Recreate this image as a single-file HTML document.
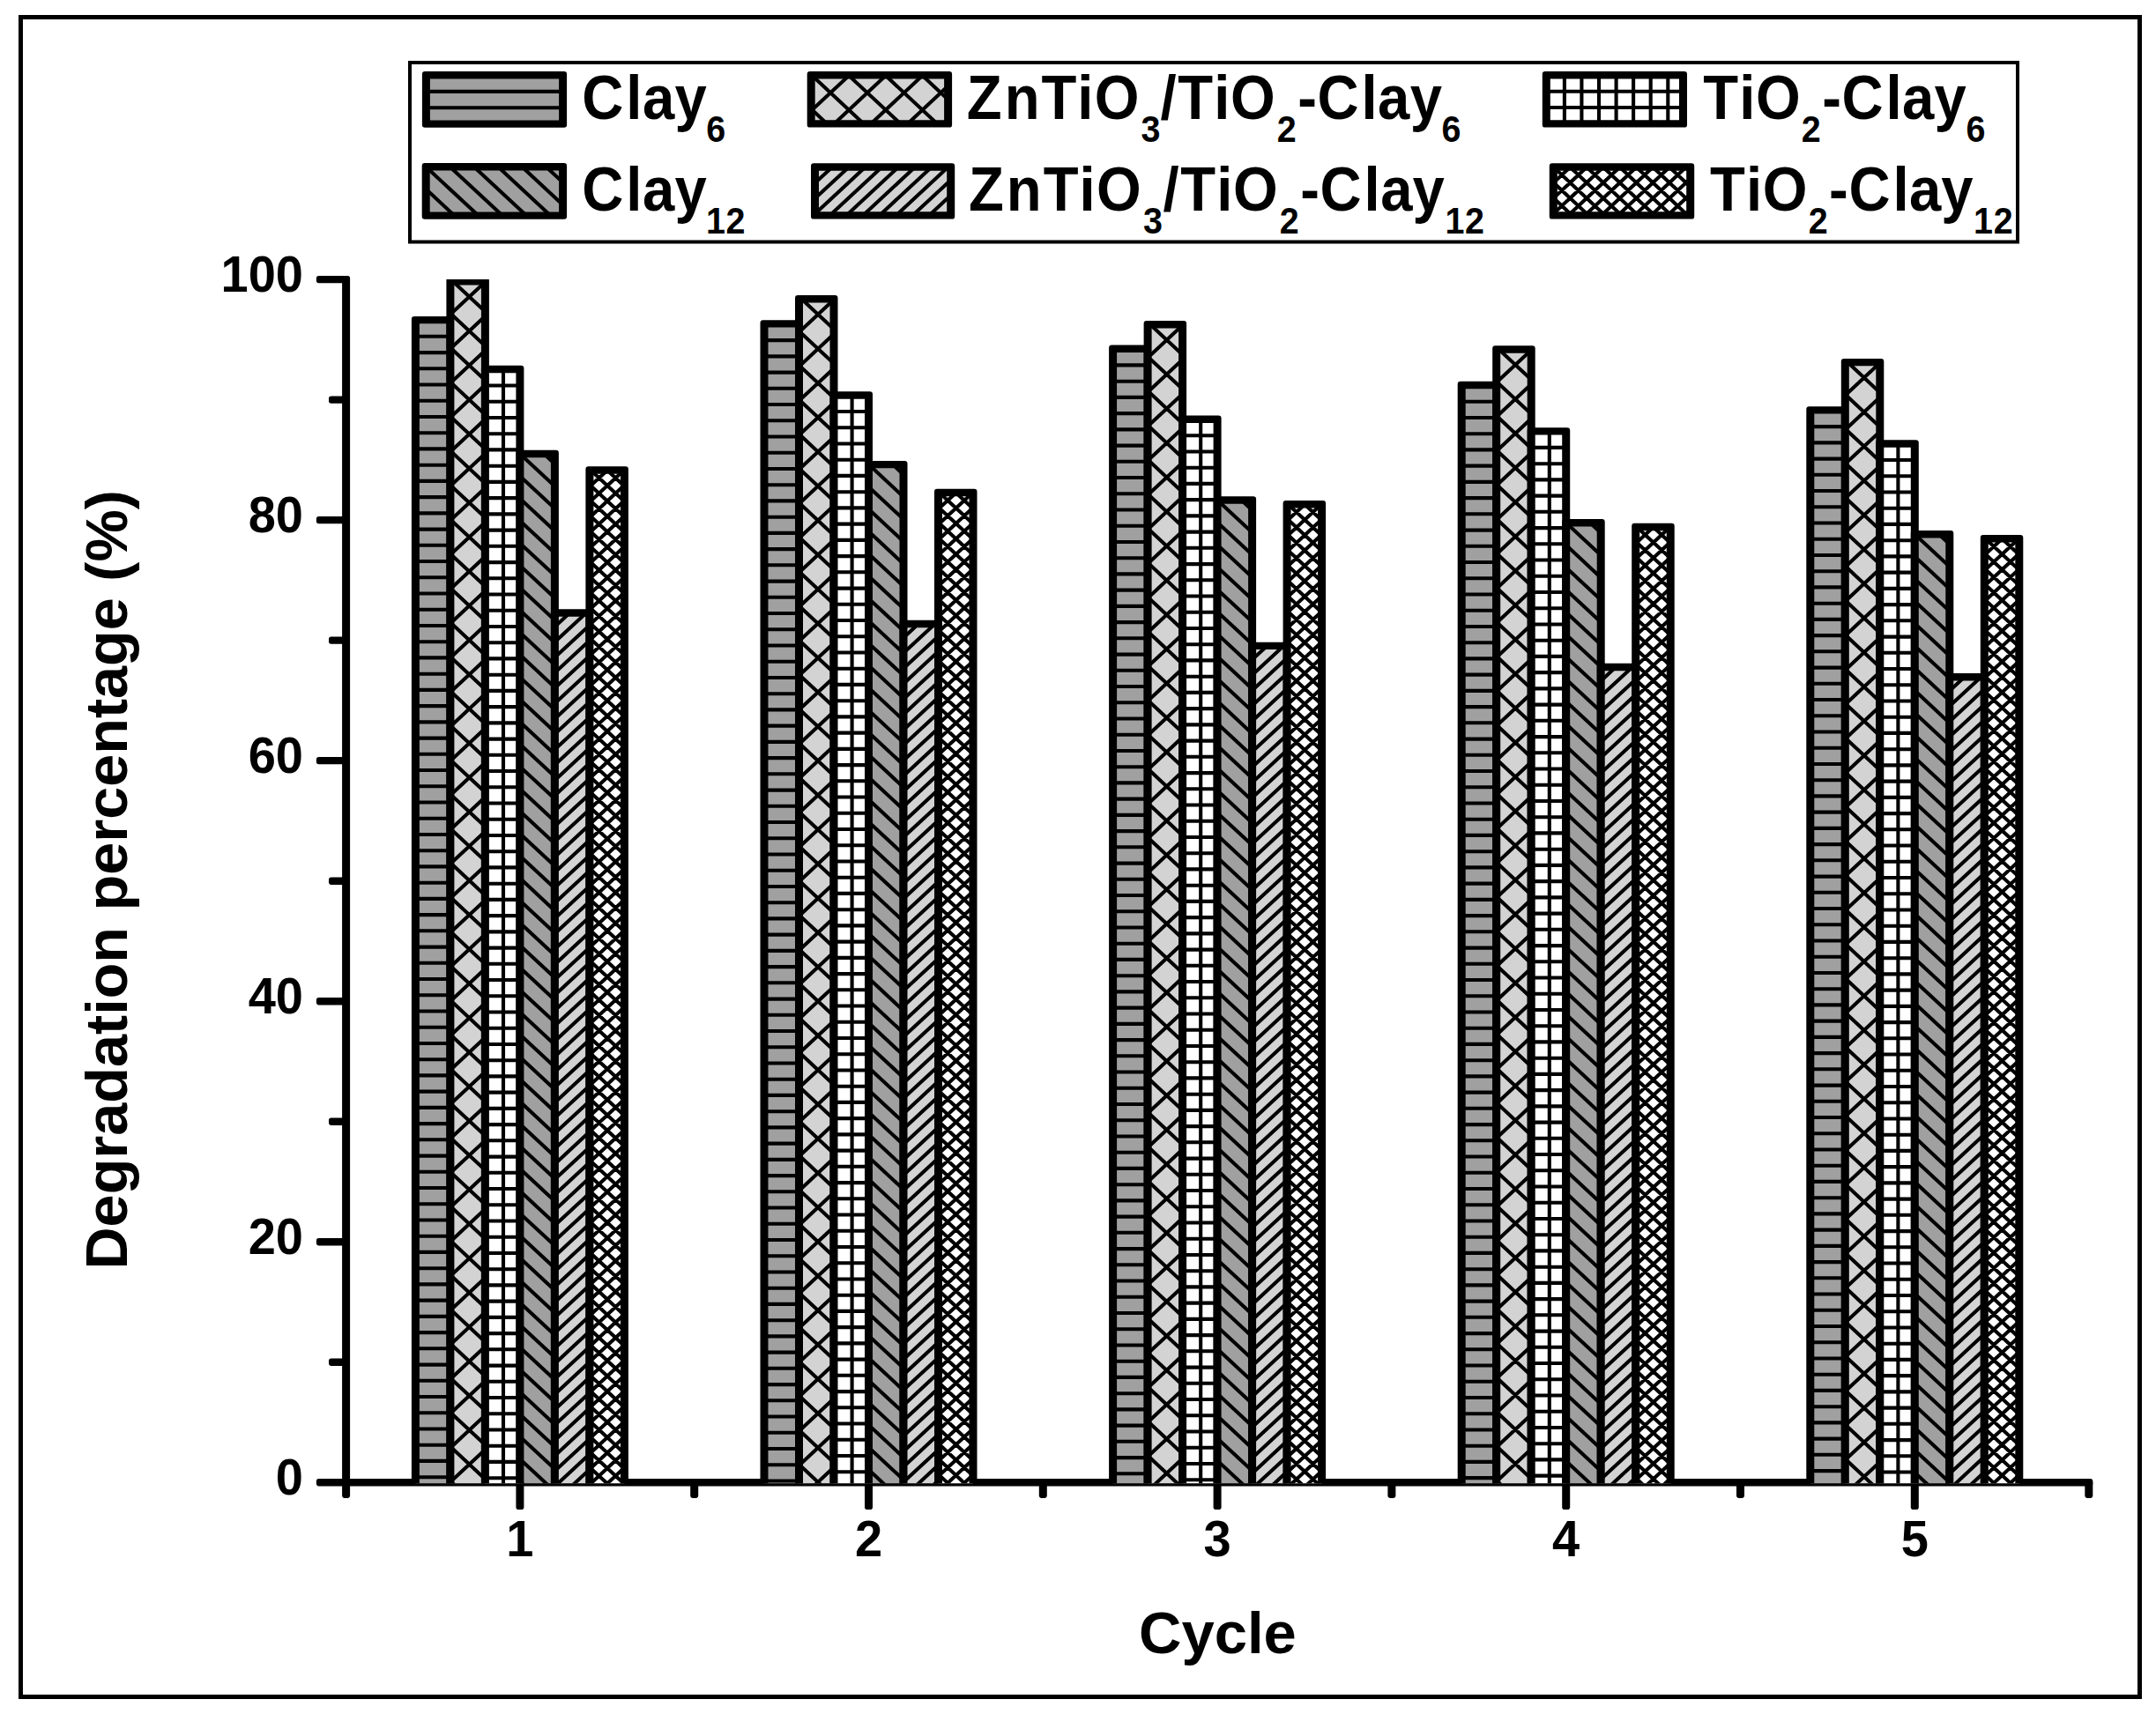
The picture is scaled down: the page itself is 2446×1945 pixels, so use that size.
<!DOCTYPE html>
<html lang="en"><head><meta charset="utf-8"><title>Degradation percentage per cycle</title>
<style>html,body{margin:0;padding:0;background:#fff}svg{display:block}text{font-family:"Liberation Sans",Arial,Helvetica,sans-serif;font-weight:bold;fill:#000}</style></head><body>
<svg width="2446" height="1945" viewBox="0 0 2446 1945">
<rect width="2446" height="1945" fill="#fff"/>
<rect x="23.5" y="19.5" width="2404" height="1906" fill="none" stroke="#000" stroke-width="5"/>
<g fill="#000"><rect x="388.1" y="312.9" width="9" height="1387" rx="2.8"/><rect x="358.9" y="1678" width="2015.4" height="8.4" rx="2.8"/><rect x="373" y="1541.5" width="19.5" height="8.4" rx="2.8"/><rect x="358.9" y="1405" width="33.6" height="8.4" rx="2.8"/><rect x="373" y="1268.5" width="19.5" height="8.4" rx="2.8"/><rect x="358.9" y="1132" width="33.6" height="8.4" rx="2.8"/><rect x="373" y="995.5" width="19.5" height="8.4" rx="2.8"/><rect x="358.9" y="858.9" width="33.6" height="8.4" rx="2.8"/><rect x="373" y="722.4" width="19.5" height="8.4" rx="2.8"/><rect x="358.9" y="585.9" width="33.6" height="8.4" rx="2.8"/><rect x="373" y="449.4" width="19.5" height="8.4" rx="2.8"/><rect x="358.9" y="312.9" width="33.6" height="8.4" rx="2.8"/><rect x="585.4" y="1680.2" width="9" height="32.8" rx="2.8"/><rect x="783.2" y="1680.2" width="9" height="19.7" rx="2.8"/><rect x="981" y="1680.2" width="9" height="32.8" rx="2.8"/><rect x="1178.8" y="1680.2" width="9" height="19.7" rx="2.8"/><rect x="1376.6" y="1680.2" width="9" height="32.8" rx="2.8"/><rect x="1574.4" y="1680.2" width="9" height="19.7" rx="2.8"/><rect x="1772.2" y="1680.2" width="9" height="32.8" rx="2.8"/><rect x="1970" y="1680.2" width="9" height="19.7" rx="2.8"/><rect x="2167.8" y="1680.2" width="9" height="32.8" rx="2.8"/><rect x="2365.3" y="1680.2" width="9" height="19.7" rx="2.8"/></g>
<defs><clipPath id="plot"><rect x="380" y="317.1" width="2010" height="1366.2"/></clipPath></defs>
<g clip-path="url(#plot)">
<rect x="471.4" y="363.1" width="39.5" height="1331.1" fill="#a0a0a0"/>
<path d="M471.4 381.8L510.9 381.8M471.4 400.1L510.9 400.1M471.4 418.3L510.9 418.3M471.4 436.5L510.9 436.5M471.4 454.8L510.9 454.8M471.4 473L510.9 473M471.4 491.2L510.9 491.2M471.4 509.4L510.9 509.4M471.4 527.7L510.9 527.7M471.4 545.9L510.9 545.9M471.4 564.1L510.9 564.1M471.4 582.4L510.9 582.4M471.4 600.6L510.9 600.6M471.4 618.8L510.9 618.8M471.4 637L510.9 637M471.4 655.3L510.9 655.3M471.4 673.5L510.9 673.5M471.4 691.7L510.9 691.7M471.4 710L510.9 710M471.4 728.2L510.9 728.2M471.4 746.4L510.9 746.4M471.4 764.7L510.9 764.7M471.4 782.9L510.9 782.9M471.4 801.1L510.9 801.1M471.4 819.4L510.9 819.4M471.4 837.6L510.9 837.6M471.4 855.8L510.9 855.8M471.4 874L510.9 874M471.4 892.3L510.9 892.3M471.4 910.5L510.9 910.5M471.4 928.7L510.9 928.7M471.4 947L510.9 947M471.4 965.2L510.9 965.2M471.4 983.4L510.9 983.4M471.4 1001.7L510.9 1001.7M471.4 1019.9L510.9 1019.9M471.4 1038.1L510.9 1038.1M471.4 1056.3L510.9 1056.3M471.4 1074.6L510.9 1074.6M471.4 1092.8L510.9 1092.8M471.4 1111L510.9 1111M471.4 1129.3L510.9 1129.3M471.4 1147.5L510.9 1147.5M471.4 1165.7L510.9 1165.7M471.4 1184L510.9 1184M471.4 1202.2L510.9 1202.2M471.4 1220.4L510.9 1220.4M471.4 1238.6L510.9 1238.6M471.4 1256.9L510.9 1256.9M471.4 1275.1L510.9 1275.1M471.4 1293.3L510.9 1293.3M471.4 1311.6L510.9 1311.6M471.4 1329.8L510.9 1329.8M471.4 1348L510.9 1348M471.4 1366.2L510.9 1366.2M471.4 1384.5L510.9 1384.5M471.4 1402.7L510.9 1402.7M471.4 1420.9L510.9 1420.9M471.4 1439.2L510.9 1439.2M471.4 1457.4L510.9 1457.4M471.4 1475.6L510.9 1475.6M471.4 1493.9L510.9 1493.9M471.4 1512.1L510.9 1512.1M471.4 1530.3L510.9 1530.3M471.4 1548.6L510.9 1548.6M471.4 1566.8L510.9 1566.8M471.4 1585L510.9 1585M471.4 1603.2L510.9 1603.2M471.4 1621.5L510.9 1621.5M471.4 1639.7L510.9 1639.7M471.4 1657.9L510.9 1657.9M471.4 1676.2L510.9 1676.2" fill="none" stroke="#000" stroke-width="4.1"/>
<path d="M470.1 358.9H512.2A3.2 3.2 0 0 1 515.4 362.1V1695.2A3.2 3.2 0 0 1 512.2 1698.4H470.1A3.2 3.2 0 0 1 466.9 1695.2V362.1A3.2 3.2 0 0 1 470.1 358.9ZM475.9 367.3H506.4V1690H475.9Z" fill="#000" fill-rule="evenodd"/>
<rect x="510.9" y="319.2" width="39.5" height="1375" fill="#d3d3d3"/>
<path d="M510.9 1680.6L525.4 1694.2M510.9 1641.6L550.4 1678.6M510.9 1602.7L550.4 1639.6M510.9 1563.7L550.4 1600.6M510.9 1524.7L550.4 1561.6M510.9 1485.8L550.4 1522.7M510.9 1446.8L550.4 1483.7M510.9 1407.8L550.4 1444.7M510.9 1368.8L550.4 1405.8M510.9 1329.9L550.4 1366.8M510.9 1290.9L550.4 1327.8M510.9 1251.9L550.4 1288.8M510.9 1213L550.4 1249.9M510.9 1174L550.4 1210.9M510.9 1135L550.4 1171.9M510.9 1096L550.4 1133M510.9 1057.1L550.4 1094M510.9 1018.1L550.4 1055M510.9 979.1L550.4 1016M510.9 940.2L550.4 977.1M510.9 901.2L550.4 938.1M510.9 862.2L550.4 899.1M510.9 823.2L550.4 860.2M510.9 784.3L550.4 821.2M510.9 745.3L550.4 782.2M510.9 706.3L550.4 743.2M510.9 667.3L550.4 704.3M510.9 628.4L550.4 665.3M510.9 589.4L550.4 626.3M510.9 550.4L550.4 587.3M510.9 511.5L550.4 548.4M510.9 472.5L550.4 509.4M510.9 433.5L550.4 470.4M510.9 394.5L550.4 431.5M510.9 355.6L550.4 392.5M513.7 319.2L550.4 353.5M550.4 319.9L510.9 356.8M550.4 358.8L510.9 395.8M550.4 397.8L510.9 434.7M550.4 436.8L510.9 473.7M550.4 475.8L510.9 512.7M550.4 514.7L510.9 551.6M550.4 553.7L510.9 590.6M550.4 592.7L510.9 629.6M550.4 631.6L510.9 668.6M550.4 670.6L510.9 707.5M550.4 709.6L510.9 746.5M550.4 748.6L510.9 785.5M550.4 787.5L510.9 824.5M550.4 826.5L510.9 863.4M550.4 865.5L510.9 902.4M550.4 904.5L510.9 941.4M550.4 943.4L510.9 980.3M550.4 982.4L510.9 1019.3M550.4 1021.4L510.9 1058.3M550.4 1060.3L510.9 1097.3M550.4 1099.3L510.9 1136.2M550.4 1138.3L510.9 1175.2M550.4 1177.3L510.9 1214.2M550.4 1216.2L510.9 1253.1M550.4 1255.2L510.9 1292.1M550.4 1294.2L510.9 1331.1M550.4 1333.1L510.9 1370.1M550.4 1372.1L510.9 1409M550.4 1411.1L510.9 1448M550.4 1450.1L510.9 1487M550.4 1489L510.9 1525.9M550.4 1528L510.9 1564.9M550.4 1567L510.9 1603.9M550.4 1605.9L510.9 1642.9M550.4 1644.9L510.9 1681.8M550.4 1683.9L539.4 1694.2" fill="none" stroke="#000" stroke-width="4.1"/>
<path d="M509.6 315H551.7A3.2 3.2 0 0 1 554.9 318.2V1695.2A3.2 3.2 0 0 1 551.7 1698.4H509.6A3.2 3.2 0 0 1 506.4 1695.2V318.2A3.2 3.2 0 0 1 509.6 315ZM515.4 323.4H545.9V1690H515.4Z" fill="#000" fill-rule="evenodd"/>
<rect x="550.4" y="419" width="39.5" height="1275.2" fill="#ffffff"/>
<path d="M550.4 437.5L589.9 437.5M550.4 455.8L589.9 455.8M550.4 474L589.9 474M550.4 492.2L589.9 492.2M550.4 510.4L589.9 510.4M550.4 528.7L589.9 528.7M550.4 546.9L589.9 546.9M550.4 565.1L589.9 565.1M550.4 583.4L589.9 583.4M550.4 601.6L589.9 601.6M550.4 619.8L589.9 619.8M550.4 638.1L589.9 638.1M550.4 656.3L589.9 656.3M550.4 674.5L589.9 674.5M550.4 692.8L589.9 692.8M550.4 711L589.9 711M550.4 729.2L589.9 729.2M550.4 747.4L589.9 747.4M550.4 765.7L589.9 765.7M550.4 783.9L589.9 783.9M550.4 802.1L589.9 802.1M550.4 820.4L589.9 820.4M550.4 838.6L589.9 838.6M550.4 856.8L589.9 856.8M550.4 875L589.9 875M550.4 893.3L589.9 893.3M550.4 911.5L589.9 911.5M550.4 929.7L589.9 929.7M550.4 948L589.9 948M550.4 966.2L589.9 966.2M550.4 984.4L589.9 984.4M550.4 1002.7L589.9 1002.7M550.4 1020.9L589.9 1020.9M550.4 1039.1L589.9 1039.1M550.4 1057.4L589.9 1057.4M550.4 1075.6L589.9 1075.6M550.4 1093.8L589.9 1093.8M550.4 1112L589.9 1112M550.4 1130.3L589.9 1130.3M550.4 1148.5L589.9 1148.5M550.4 1166.7L589.9 1166.7M550.4 1185L589.9 1185M550.4 1203.2L589.9 1203.2M550.4 1221.4L589.9 1221.4M550.4 1239.6L589.9 1239.6M550.4 1257.9L589.9 1257.9M550.4 1276.1L589.9 1276.1M550.4 1294.3L589.9 1294.3M550.4 1312.6L589.9 1312.6M550.4 1330.8L589.9 1330.8M550.4 1349L589.9 1349M550.4 1367.3L589.9 1367.3M550.4 1385.5L589.9 1385.5M550.4 1403.7L589.9 1403.7M550.4 1422L589.9 1422M550.4 1440.2L589.9 1440.2M550.4 1458.4L589.9 1458.4M550.4 1476.6L589.9 1476.6M550.4 1494.9L589.9 1494.9M550.4 1513.1L589.9 1513.1M550.4 1531.3L589.9 1531.3M550.4 1549.6L589.9 1549.6M550.4 1567.8L589.9 1567.8M550.4 1586L589.9 1586M550.4 1604.2L589.9 1604.2M550.4 1622.5L589.9 1622.5M550.4 1640.7L589.9 1640.7M550.4 1658.9L589.9 1658.9M550.4 1677.2L589.9 1677.2M571 419L571 1694.2" fill="none" stroke="#000" stroke-width="4.1"/>
<path d="M549.1 414.8H591.2A3.2 3.2 0 0 1 594.4 418V1695.2A3.2 3.2 0 0 1 591.2 1698.4H549.1A3.2 3.2 0 0 1 545.9 1695.2V418A3.2 3.2 0 0 1 549.1 414.8ZM554.9 423.2H585.4V1690H554.9Z" fill="#000" fill-rule="evenodd"/>
<rect x="589.9" y="515" width="39.5" height="1179.2" fill="#a0a0a0"/>
<path d="M589.9 1681L604 1694.2M589.9 1655.7L629.4 1692.4M589.9 1630.3L629.4 1667.1M589.9 1605L629.4 1641.7M589.9 1579.7L629.4 1616.4M589.9 1554.3L629.4 1591M589.9 1529L629.4 1565.7M589.9 1503.6L629.4 1540.3M589.9 1478.3L629.4 1515M589.9 1452.9L629.4 1489.7M589.9 1427.6L629.4 1464.3M589.9 1402.2L629.4 1439M589.9 1376.9L629.4 1413.6M589.9 1351.5L629.4 1388.3M589.9 1326.2L629.4 1362.9M589.9 1300.8L629.4 1337.6M589.9 1275.5L629.4 1312.2M589.9 1250.1L629.4 1286.9M589.9 1224.8L629.4 1261.5M589.9 1199.4L629.4 1236.2M589.9 1174.1L629.4 1210.8M589.9 1148.7L629.4 1185.5M589.9 1123.4L629.4 1160.1M589.9 1098L629.4 1134.8M589.9 1072.7L629.4 1109.4M589.9 1047.3L629.4 1084.1M589.9 1022L629.4 1058.7M589.9 996.6L629.4 1033.4M589.9 971.3L629.4 1008M589.9 945.9L629.4 982.7M589.9 920.6L629.4 957.3M589.9 895.2L629.4 932M589.9 869.9L629.4 906.6M589.9 844.5L629.4 881.3M589.9 819.2L629.4 855.9M589.9 793.8L629.4 830.6M589.9 768.5L629.4 805.2M589.9 743.1L629.4 779.9M589.9 717.8L629.4 754.5M589.9 692.4L629.4 729.2M589.9 667.1L629.4 703.8M589.9 641.7L629.4 678.5M589.9 616.4L629.4 653.1M589.9 591L629.4 627.8M589.9 565.7L629.4 602.4M589.9 540.3L629.4 577.1M589.9 515L629.4 551.7M617.2 515L629.4 526.4" fill="none" stroke="#000" stroke-width="4.1"/>
<path d="M588.6 510.8H630.7A3.2 3.2 0 0 1 633.9 514V1695.2A3.2 3.2 0 0 1 630.7 1698.4H588.6A3.2 3.2 0 0 1 585.4 1695.2V514A3.2 3.2 0 0 1 588.6 510.8ZM594.4 519.2H624.9V1690H594.4Z" fill="#000" fill-rule="evenodd"/>
<rect x="629.4" y="695.5" width="39.5" height="998.7" fill="#d3d3d3"/>
<path d="M646.3 695.5L629.4 711.2M665.1 695.5L629.4 728.6M668.9 709.4L629.4 746M668.9 726.8L629.4 763.4M668.9 744.2L629.4 780.8M668.9 761.6L629.4 798.3M668.9 779L629.4 815.7M668.9 796.5L629.4 833.1M668.9 813.9L629.4 850.5M668.9 831.3L629.4 867.9M668.9 848.7L629.4 885.4M668.9 866.1L629.4 902.8M668.9 883.6L629.4 920.2M668.9 901L629.4 937.6M668.9 918.4L629.4 955.1M668.9 935.8L629.4 972.5M668.9 953.3L629.4 989.9M668.9 970.7L629.4 1007.3M668.9 988.1L629.4 1024.7M668.9 1005.5L629.4 1042.2M668.9 1022.9L629.4 1059.6M668.9 1040.4L629.4 1077M668.9 1057.8L629.4 1094.4M668.9 1075.2L629.4 1111.8M668.9 1092.6L629.4 1129.3M668.9 1110L629.4 1146.7M668.9 1127.5L629.4 1164.1M668.9 1144.9L629.4 1181.5M668.9 1162.3L629.4 1199M668.9 1179.7L629.4 1216.4M668.9 1197.2L629.4 1233.8M668.9 1214.6L629.4 1251.2M668.9 1232L629.4 1268.6M668.9 1249.4L629.4 1286.1M668.9 1266.8L629.4 1303.5M668.9 1284.3L629.4 1320.9M668.9 1301.7L629.4 1338.3M668.9 1319.1L629.4 1355.7M668.9 1336.5L629.4 1373.2M668.9 1353.9L629.4 1390.6M668.9 1371.4L629.4 1408M668.9 1388.8L629.4 1425.4M668.9 1406.2L629.4 1442.8M668.9 1423.6L629.4 1460.3M668.9 1441L629.4 1477.7M668.9 1458.5L629.4 1495.1M668.9 1475.9L629.4 1512.5M668.9 1493.3L629.4 1530M668.9 1510.7L629.4 1547.4M668.9 1528.2L629.4 1564.8M668.9 1545.6L629.4 1582.2M668.9 1563L629.4 1599.6M668.9 1580.4L629.4 1617.1M668.9 1597.8L629.4 1634.5M668.9 1615.3L629.4 1651.9M668.9 1632.7L629.4 1669.3M668.9 1650.1L629.4 1686.7M668.9 1667.5L640.1 1694.2M668.9 1684.9L658.9 1694.2" fill="none" stroke="#000" stroke-width="4.1"/>
<path d="M628.1 691.3H670.2A3.2 3.2 0 0 1 673.4 694.5V1695.2A3.2 3.2 0 0 1 670.2 1698.4H628.1A3.2 3.2 0 0 1 624.9 1695.2V694.5A3.2 3.2 0 0 1 628.1 691.3ZM633.9 699.7H664.4V1690H633.9Z" fill="#000" fill-rule="evenodd"/>
<rect x="668.9" y="533.5" width="39.5" height="1160.7" fill="#ffffff"/>
<path d="M668.9 1682.3L681.8 1694.2M668.9 1664.9L700.5 1694.2M668.9 1647.4L708.4 1684.1M668.9 1630L708.4 1666.7M668.9 1612.6L708.4 1649.2M668.9 1595.2L708.4 1631.8M668.9 1577.7L708.4 1614.4M668.9 1560.3L708.4 1597M668.9 1542.9L708.4 1579.5M668.9 1525.5L708.4 1562.1M668.9 1508.1L708.4 1544.7M668.9 1490.6L708.4 1527.3M668.9 1473.2L708.4 1509.9M668.9 1455.8L708.4 1492.4M668.9 1438.4L708.4 1475M668.9 1421L708.4 1457.6M668.9 1403.5L708.4 1440.2M668.9 1386.1L708.4 1422.8M668.9 1368.7L708.4 1405.3M668.9 1351.3L708.4 1387.9M668.9 1333.9L708.4 1370.5M668.9 1316.4L708.4 1353.1M668.9 1299L708.4 1335.7M668.9 1281.6L708.4 1318.2M668.9 1264.2L708.4 1300.8M668.9 1246.7L708.4 1283.4M668.9 1229.3L708.4 1266M668.9 1211.9L708.4 1248.5M668.9 1194.5L708.4 1231.1M668.9 1177.1L708.4 1213.7M668.9 1159.6L708.4 1196.3M668.9 1142.2L708.4 1178.9M668.9 1124.8L708.4 1161.4M668.9 1107.4L708.4 1144M668.9 1090L708.4 1126.6M668.9 1072.5L708.4 1109.2M668.9 1055.1L708.4 1091.8M668.9 1037.7L708.4 1074.3M668.9 1020.3L708.4 1056.9M668.9 1002.9L708.4 1039.5M668.9 985.4L708.4 1022.1M668.9 968L708.4 1004.7M668.9 950.6L708.4 987.2M668.9 933.2L708.4 969.8M668.9 915.7L708.4 952.4M668.9 898.3L708.4 935M668.9 880.9L708.4 917.5M668.9 863.5L708.4 900.1M668.9 846.1L708.4 882.7M668.9 828.6L708.4 865.3M668.9 811.2L708.4 847.9M668.9 793.8L708.4 830.4M668.9 776.4L708.4 813M668.9 759L708.4 795.6M668.9 741.5L708.4 778.2M668.9 724.1L708.4 760.8M668.9 706.7L708.4 743.3M668.9 689.3L708.4 725.9M668.9 671.8L708.4 708.5M668.9 654.4L708.4 691.1M668.9 637L708.4 673.6M668.9 619.6L708.4 656.2M668.9 602.2L708.4 638.8M668.9 584.7L708.4 621.4M668.9 567.3L708.4 604M668.9 549.9L708.4 586.5M670 533.5L708.4 569.1M688.8 533.5L708.4 551.7M707.6 533.5L708.4 534.3M670.4 533.5L668.9 534.9M689.2 533.5L668.9 552.3M708 533.5L668.9 569.7M708.4 550.5L668.9 587.2M708.4 567.9L668.9 604.6M708.4 585.4L668.9 622M708.4 602.8L668.9 639.4M708.4 620.2L668.9 656.8M708.4 637.6L668.9 674.3M708.4 655L668.9 691.7M708.4 672.5L668.9 709.1M708.4 689.9L668.9 726.5M708.4 707.3L668.9 743.9M708.4 724.7L668.9 761.4M708.4 742.1L668.9 778.8M708.4 759.6L668.9 796.2M708.4 777L668.9 813.6M708.4 794.4L668.9 831.1M708.4 811.8L668.9 848.5M708.4 829.3L668.9 865.9M708.4 846.7L668.9 883.3M708.4 864.1L668.9 900.7M708.4 881.5L668.9 918.2M708.4 898.9L668.9 935.6M708.4 916.4L668.9 953M708.4 933.8L668.9 970.4M708.4 951.2L668.9 987.8M708.4 968.6L668.9 1005.3M708.4 986L668.9 1022.7M708.4 1003.5L668.9 1040.1M708.4 1020.9L668.9 1057.5M708.4 1038.3L668.9 1074.9M708.4 1055.7L668.9 1092.4M708.4 1073.1L668.9 1109.8M708.4 1090.6L668.9 1127.2M708.4 1108L668.9 1144.6M708.4 1125.4L668.9 1162.1M708.4 1142.8L668.9 1179.5M708.4 1160.3L668.9 1196.9M708.4 1177.7L668.9 1214.3M708.4 1195.1L668.9 1231.7M708.4 1212.5L668.9 1249.2M708.4 1229.9L668.9 1266.6M708.4 1247.4L668.9 1284M708.4 1264.8L668.9 1301.4M708.4 1282.2L668.9 1318.8M708.4 1299.6L668.9 1336.3M708.4 1317L668.9 1353.7M708.4 1334.5L668.9 1371.1M708.4 1351.9L668.9 1388.5M708.4 1369.3L668.9 1405.9M708.4 1386.7L668.9 1423.4M708.4 1404.1L668.9 1440.8M708.4 1421.6L668.9 1458.2M708.4 1439L668.9 1475.6M708.4 1456.4L668.9 1493.1M708.4 1473.8L668.9 1510.5M708.4 1491.3L668.9 1527.9M708.4 1508.7L668.9 1545.3M708.4 1526.1L668.9 1562.7M708.4 1543.5L668.9 1580.2M708.4 1560.9L668.9 1597.6M708.4 1578.4L668.9 1615M708.4 1595.8L668.9 1632.4M708.4 1613.2L668.9 1649.8M708.4 1630.6L668.9 1667.3M708.4 1648L668.9 1684.7M708.4 1665.5L677.4 1694.2M708.4 1682.9L696.2 1694.2" fill="none" stroke="#000" stroke-width="4.1"/>
<path d="M667.6 529.3H709.7A3.2 3.2 0 0 1 712.9 532.5V1695.2A3.2 3.2 0 0 1 709.7 1698.4H667.6A3.2 3.2 0 0 1 664.4 1695.2V532.5A3.2 3.2 0 0 1 667.6 529.3ZM673.4 537.7H703.9V1690H673.4Z" fill="#000" fill-rule="evenodd"/>
<rect x="867" y="367.4" width="39.5" height="1326.8" fill="#a0a0a0"/>
<path d="M867 386.1L906.5 386.1M867 404.4L906.5 404.4M867 422.6L906.5 422.6M867 440.8L906.5 440.8M867 459L906.5 459M867 477.3L906.5 477.3M867 495.5L906.5 495.5M867 513.7L906.5 513.7M867 532L906.5 532M867 550.2L906.5 550.2M867 568.4L906.5 568.4M867 586.7L906.5 586.7M867 604.9L906.5 604.9M867 623.1L906.5 623.1M867 641.3L906.5 641.3M867 659.6L906.5 659.6M867 677.8L906.5 677.8M867 696L906.5 696M867 714.3L906.5 714.3M867 732.5L906.5 732.5M867 750.7L906.5 750.7M867 769L906.5 769M867 787.2L906.5 787.2M867 805.4L906.5 805.4M867 823.6L906.5 823.6M867 841.9L906.5 841.9M867 860.1L906.5 860.1M867 878.3L906.5 878.3M867 896.6L906.5 896.6M867 914.8L906.5 914.8M867 933L906.5 933M867 951.3L906.5 951.3M867 969.5L906.5 969.5M867 987.7L906.5 987.7M867 1006L906.5 1006M867 1024.2L906.5 1024.2M867 1042.4L906.5 1042.4M867 1060.6L906.5 1060.6M867 1078.9L906.5 1078.9M867 1097.1L906.5 1097.1M867 1115.3L906.5 1115.3M867 1133.6L906.5 1133.6M867 1151.8L906.5 1151.8M867 1170L906.5 1170M867 1188.2L906.5 1188.2M867 1206.5L906.5 1206.5M867 1224.7L906.5 1224.7M867 1242.9L906.5 1242.9M867 1261.2L906.5 1261.2M867 1279.4L906.5 1279.4M867 1297.6L906.5 1297.6M867 1315.9L906.5 1315.9M867 1334.1L906.5 1334.1M867 1352.3L906.5 1352.3M867 1370.5L906.5 1370.5M867 1388.8L906.5 1388.8M867 1407L906.5 1407M867 1425.2L906.5 1425.2M867 1443.5L906.5 1443.5M867 1461.7L906.5 1461.7M867 1479.9L906.5 1479.9M867 1498.2L906.5 1498.2M867 1516.4L906.5 1516.4M867 1534.6L906.5 1534.6M867 1552.8L906.5 1552.8M867 1571.1L906.5 1571.1M867 1589.3L906.5 1589.3M867 1607.5L906.5 1607.5M867 1625.8L906.5 1625.8M867 1644L906.5 1644M867 1662.2L906.5 1662.2M867 1680.5L906.5 1680.5" fill="none" stroke="#000" stroke-width="4.1"/>
<path d="M865.7 363.2H907.8A3.2 3.2 0 0 1 911 366.4V1695.2A3.2 3.2 0 0 1 907.8 1698.4H865.7A3.2 3.2 0 0 1 862.5 1695.2V366.4A3.2 3.2 0 0 1 865.7 363.2ZM871.5 371.6H902V1690H871.5Z" fill="#000" fill-rule="evenodd"/>
<rect x="906.5" y="339.3" width="39.5" height="1354.9" fill="#d3d3d3"/>
<path d="M906.5 1661.7L941.2 1694.2M906.5 1622.8L946 1659.7M906.5 1583.8L946 1620.7M906.5 1544.8L946 1581.7M906.5 1505.9L946 1542.8M906.5 1466.9L946 1503.8M906.5 1427.9L946 1464.8M906.5 1388.9L946 1425.9M906.5 1350L946 1386.9M906.5 1311L946 1347.9M906.5 1272L946 1308.9M906.5 1233.1L946 1270M906.5 1194.1L946 1231M906.5 1155.1L946 1192M906.5 1116.1L946 1153.1M906.5 1077.2L946 1114.1M906.5 1038.2L946 1075.1M906.5 999.2L946 1036.1M906.5 960.3L946 997.2M906.5 921.3L946 958.2M906.5 882.3L946 919.2M906.5 843.3L946 880.3M906.5 804.4L946 841.3M906.5 765.4L946 802.3M906.5 726.4L946 763.3M906.5 687.4L946 724.4M906.5 648.5L946 685.4M906.5 609.5L946 646.4M906.5 570.5L946 607.4M906.5 531.6L946 568.5M906.5 492.6L946 529.5M906.5 453.6L946 490.5M906.5 414.6L946 451.6M906.5 375.7L946 412.6M909.3 339.3L946 373.6M946 340L906.5 376.9M946 378.9L906.5 415.9M946 417.9L906.5 454.8M946 456.9L906.5 493.8M946 495.9L906.5 532.8M946 534.8L906.5 571.7M946 573.8L906.5 610.7M946 612.8L906.5 649.7M946 651.7L906.5 688.7M946 690.7L906.5 727.6M946 729.7L906.5 766.6M946 768.7L906.5 805.6M946 807.6L906.5 844.6M946 846.6L906.5 883.5M946 885.6L906.5 922.5M946 924.6L906.5 961.5M946 963.5L906.5 1000.4M946 1002.5L906.5 1039.4M946 1041.5L906.5 1078.4M946 1080.4L906.5 1117.4M946 1119.4L906.5 1156.3M946 1158.4L906.5 1195.3M946 1197.4L906.5 1234.3M946 1236.3L906.5 1273.2M946 1275.3L906.5 1312.2M946 1314.3L906.5 1351.2M946 1353.2L906.5 1390.2M946 1392.2L906.5 1429.1M946 1431.2L906.5 1468.1M946 1470.2L906.5 1507.1M946 1509.1L906.5 1546M946 1548.1L906.5 1585M946 1587.1L906.5 1624M946 1626L906.5 1663M946 1665L914.8 1694.2" fill="none" stroke="#000" stroke-width="4.1"/>
<path d="M905.2 335.1H947.3A3.2 3.2 0 0 1 950.5 338.3V1695.2A3.2 3.2 0 0 1 947.3 1698.4H905.2A3.2 3.2 0 0 1 902 1695.2V338.3A3.2 3.2 0 0 1 905.2 335.1ZM911 343.5H941.5V1690H911Z" fill="#000" fill-rule="evenodd"/>
<rect x="946" y="448.5" width="39.5" height="1245.7" fill="#ffffff"/>
<path d="M946 467L985.5 467M946 485.3L985.5 485.3M946 503.5L985.5 503.5M946 521.7L985.5 521.7M946 539.9L985.5 539.9M946 558.2L985.5 558.2M946 576.4L985.5 576.4M946 594.6L985.5 594.6M946 612.9L985.5 612.9M946 631.1L985.5 631.1M946 649.3L985.5 649.3M946 667.6L985.5 667.6M946 685.8L985.5 685.8M946 704L985.5 704M946 722.2L985.5 722.2M946 740.5L985.5 740.5M946 758.7L985.5 758.7M946 776.9L985.5 776.9M946 795.2L985.5 795.2M946 813.4L985.5 813.4M946 831.6L985.5 831.6M946 849.9L985.5 849.9M946 868.1L985.5 868.1M946 886.3L985.5 886.3M946 904.5L985.5 904.5M946 922.8L985.5 922.8M946 941L985.5 941M946 959.2L985.5 959.2M946 977.5L985.5 977.5M946 995.7L985.5 995.7M946 1013.9L985.5 1013.9M946 1032.2L985.5 1032.2M946 1050.4L985.5 1050.4M946 1068.6L985.5 1068.6M946 1086.9L985.5 1086.9M946 1105.1L985.5 1105.1M946 1123.3L985.5 1123.3M946 1141.5L985.5 1141.5M946 1159.8L985.5 1159.8M946 1178L985.5 1178M946 1196.2L985.5 1196.2M946 1214.5L985.5 1214.5M946 1232.7L985.5 1232.7M946 1250.9L985.5 1250.9M946 1269.1L985.5 1269.1M946 1287.4L985.5 1287.4M946 1305.6L985.5 1305.6M946 1323.8L985.5 1323.8M946 1342.1L985.5 1342.1M946 1360.3L985.5 1360.3M946 1378.5L985.5 1378.5M946 1396.8L985.5 1396.8M946 1415L985.5 1415M946 1433.2L985.5 1433.2M946 1451.5L985.5 1451.5M946 1469.7L985.5 1469.7M946 1487.9L985.5 1487.9M946 1506.1L985.5 1506.1M946 1524.4L985.5 1524.4M946 1542.6L985.5 1542.6M946 1560.8L985.5 1560.8M946 1579.1L985.5 1579.1M946 1597.3L985.5 1597.3M946 1615.5L985.5 1615.5M946 1633.8L985.5 1633.8M946 1652L985.5 1652M946 1670.2L985.5 1670.2M946 1688.4L985.5 1688.4M966.6 448.5L966.6 1694.2" fill="none" stroke="#000" stroke-width="4.1"/>
<path d="M944.7 444.3H986.8A3.2 3.2 0 0 1 990 447.5V1695.2A3.2 3.2 0 0 1 986.8 1698.4H944.7A3.2 3.2 0 0 1 941.5 1695.2V447.5A3.2 3.2 0 0 1 944.7 444.3ZM950.5 452.7H981V1690H950.5Z" fill="#000" fill-rule="evenodd"/>
<rect x="985.5" y="527.1" width="39.5" height="1167.1" fill="#a0a0a0"/>
<path d="M985.5 1693.1L986.6 1694.2M985.5 1667.8L1013.9 1694.2M985.5 1642.4L1025 1679.2M985.5 1617.1L1025 1653.8M985.5 1591.8L1025 1628.5M985.5 1566.4L1025 1603.1M985.5 1541.1L1025 1577.8M985.5 1515.7L1025 1552.4M985.5 1490.4L1025 1527.1M985.5 1465L1025 1501.8M985.5 1439.7L1025 1476.4M985.5 1414.3L1025 1451.1M985.5 1389L1025 1425.7M985.5 1363.6L1025 1400.4M985.5 1338.3L1025 1375M985.5 1312.9L1025 1349.7M985.5 1287.6L1025 1324.3M985.5 1262.2L1025 1299M985.5 1236.9L1025 1273.6M985.5 1211.5L1025 1248.3M985.5 1186.2L1025 1222.9M985.5 1160.8L1025 1197.6M985.5 1135.5L1025 1172.2M985.5 1110.1L1025 1146.9M985.5 1084.8L1025 1121.5M985.5 1059.4L1025 1096.2M985.5 1034.1L1025 1070.8M985.5 1008.7L1025 1045.5M985.5 983.4L1025 1020.1M985.5 958L1025 994.8M985.5 932.7L1025 969.4M985.5 907.3L1025 944.1M985.5 882L1025 918.7M985.5 856.6L1025 893.4M985.5 831.3L1025 868M985.5 805.9L1025 842.7M985.5 780.6L1025 817.3M985.5 755.2L1025 792M985.5 729.9L1025 766.6M985.5 704.5L1025 741.3M985.5 679.2L1025 715.9M985.5 653.8L1025 690.6M985.5 628.5L1025 665.2M985.5 603.1L1025 639.9M985.5 577.8L1025 614.5M985.5 552.4L1025 589.2M985.5 527.1L1025 563.8M1012.8 527.1L1025 538.5" fill="none" stroke="#000" stroke-width="4.1"/>
<path d="M984.2 522.9H1026.3A3.2 3.2 0 0 1 1029.5 526.1V1695.2A3.2 3.2 0 0 1 1026.3 1698.4H984.2A3.2 3.2 0 0 1 981 1695.2V526.1A3.2 3.2 0 0 1 984.2 522.9ZM990 531.3H1020.5V1690H990Z" fill="#000" fill-rule="evenodd"/>
<rect x="1025" y="708" width="39.5" height="986.2" fill="#d3d3d3"/>
<path d="M1041.9 708L1025 723.7M1060.7 708L1025 741.1M1064.5 721.9L1025 758.5M1064.5 739.3L1025 775.9M1064.5 756.7L1025 793.3M1064.5 774.1L1025 810.8M1064.5 791.5L1025 828.2M1064.5 809L1025 845.6M1064.5 826.4L1025 863M1064.5 843.8L1025 880.4M1064.5 861.2L1025 897.9M1064.5 878.6L1025 915.3M1064.5 896.1L1025 932.7M1064.5 913.5L1025 950.1M1064.5 930.9L1025 967.6M1064.5 948.3L1025 985M1064.5 965.8L1025 1002.4M1064.5 983.2L1025 1019.8M1064.5 1000.6L1025 1037.2M1064.5 1018L1025 1054.7M1064.5 1035.4L1025 1072.1M1064.5 1052.9L1025 1089.5M1064.5 1070.3L1025 1106.9M1064.5 1087.7L1025 1124.3M1064.5 1105.1L1025 1141.8M1064.5 1122.5L1025 1159.2M1064.5 1140L1025 1176.6M1064.5 1157.4L1025 1194M1064.5 1174.8L1025 1211.5M1064.5 1192.2L1025 1228.9M1064.5 1209.7L1025 1246.3M1064.5 1227.1L1025 1263.7M1064.5 1244.5L1025 1281.1M1064.5 1261.9L1025 1298.6M1064.5 1279.3L1025 1316M1064.5 1296.8L1025 1333.4M1064.5 1314.2L1025 1350.8M1064.5 1331.6L1025 1368.2M1064.5 1349L1025 1385.7M1064.5 1366.4L1025 1403.1M1064.5 1383.9L1025 1420.5M1064.5 1401.3L1025 1437.9M1064.5 1418.7L1025 1455.3M1064.5 1436.1L1025 1472.8M1064.5 1453.5L1025 1490.2M1064.5 1471L1025 1507.6M1064.5 1488.4L1025 1525M1064.5 1505.8L1025 1542.5M1064.5 1523.2L1025 1559.9M1064.5 1540.7L1025 1577.3M1064.5 1558.1L1025 1594.7M1064.5 1575.5L1025 1612.1M1064.5 1592.9L1025 1629.6M1064.5 1610.3L1025 1647M1064.5 1627.8L1025 1664.4M1064.5 1645.2L1025 1681.8M1064.5 1662.6L1030.4 1694.2M1064.5 1680L1049.2 1694.2" fill="none" stroke="#000" stroke-width="4.1"/>
<path d="M1023.7 703.8H1065.8A3.2 3.2 0 0 1 1069 707V1695.2A3.2 3.2 0 0 1 1065.8 1698.4H1023.7A3.2 3.2 0 0 1 1020.5 1695.2V707A3.2 3.2 0 0 1 1023.7 703.8ZM1029.5 712.2H1060V1690H1029.5Z" fill="#000" fill-rule="evenodd"/>
<rect x="1064.5" y="559" width="39.5" height="1135.2" fill="#ffffff"/>
<path d="M1064.5 1690.4L1068.6 1694.2M1064.5 1672.9L1087.4 1694.2M1064.5 1655.5L1104 1692.2M1064.5 1638.1L1104 1674.7M1064.5 1620.7L1104 1657.3M1064.5 1603.2L1104 1639.9M1064.5 1585.8L1104 1622.5M1064.5 1568.4L1104 1605M1064.5 1551L1104 1587.6M1064.5 1533.6L1104 1570.2M1064.5 1516.1L1104 1552.8M1064.5 1498.7L1104 1535.4M1064.5 1481.3L1104 1517.9M1064.5 1463.9L1104 1500.5M1064.5 1446.5L1104 1483.1M1064.5 1429L1104 1465.7M1064.5 1411.6L1104 1448.3M1064.5 1394.2L1104 1430.8M1064.5 1376.8L1104 1413.4M1064.5 1359.4L1104 1396M1064.5 1341.9L1104 1378.6M1064.5 1324.5L1104 1361.2M1064.5 1307.1L1104 1343.7M1064.5 1289.7L1104 1326.3M1064.5 1272.2L1104 1308.9M1064.5 1254.8L1104 1291.5M1064.5 1237.4L1104 1274M1064.5 1220L1104 1256.6M1064.5 1202.6L1104 1239.2M1064.5 1185.1L1104 1221.8M1064.5 1167.7L1104 1204.4M1064.5 1150.3L1104 1186.9M1064.5 1132.9L1104 1169.5M1064.5 1115.5L1104 1152.1M1064.5 1098L1104 1134.7M1064.5 1080.6L1104 1117.3M1064.5 1063.2L1104 1099.8M1064.5 1045.8L1104 1082.4M1064.5 1028.4L1104 1065M1064.5 1010.9L1104 1047.6M1064.5 993.5L1104 1030.2M1064.5 976.1L1104 1012.7M1064.5 958.7L1104 995.3M1064.5 941.2L1104 977.9M1064.5 923.8L1104 960.5M1064.5 906.4L1104 943M1064.5 889L1104 925.6M1064.5 871.6L1104 908.2M1064.5 854.1L1104 890.8M1064.5 836.7L1104 873.4M1064.5 819.3L1104 855.9M1064.5 801.9L1104 838.5M1064.5 784.5L1104 821.1M1064.5 767L1104 803.7M1064.5 749.6L1104 786.3M1064.5 732.2L1104 768.8M1064.5 714.8L1104 751.4M1064.5 697.3L1104 734M1064.5 679.9L1104 716.6M1064.5 662.5L1104 699.1M1064.5 645.1L1104 681.7M1064.5 627.7L1104 664.3M1064.5 610.2L1104 646.9M1064.5 592.8L1104 629.5M1064.5 575.4L1104 612M1065.6 559L1104 594.6M1084.4 559L1104 577.2M1103.2 559L1104 559.8M1066 559L1064.5 560.4M1084.8 559L1064.5 577.8M1103.6 559L1064.5 595.2M1104 576L1064.5 612.7M1104 593.4L1064.5 630.1M1104 610.9L1064.5 647.5M1104 628.3L1064.5 664.9M1104 645.7L1064.5 682.3M1104 663.1L1064.5 699.8M1104 680.5L1064.5 717.2M1104 698L1064.5 734.6M1104 715.4L1064.5 752M1104 732.8L1064.5 769.4M1104 750.2L1064.5 786.9M1104 767.6L1064.5 804.3M1104 785.1L1064.5 821.7M1104 802.5L1064.5 839.1M1104 819.9L1064.5 856.6M1104 837.3L1064.5 874M1104 854.8L1064.5 891.4M1104 872.2L1064.5 908.8M1104 889.6L1064.5 926.2M1104 907L1064.5 943.7M1104 924.4L1064.5 961.1M1104 941.9L1064.5 978.5M1104 959.3L1064.5 995.9M1104 976.7L1064.5 1013.3M1104 994.1L1064.5 1030.8M1104 1011.5L1064.5 1048.2M1104 1029L1064.5 1065.6M1104 1046.4L1064.5 1083M1104 1063.8L1064.5 1100.4M1104 1081.2L1064.5 1117.9M1104 1098.6L1064.5 1135.3M1104 1116.1L1064.5 1152.7M1104 1133.5L1064.5 1170.1M1104 1150.9L1064.5 1187.6M1104 1168.3L1064.5 1205M1104 1185.8L1064.5 1222.4M1104 1203.2L1064.5 1239.8M1104 1220.6L1064.5 1257.2M1104 1238L1064.5 1274.7M1104 1255.4L1064.5 1292.1M1104 1272.9L1064.5 1309.5M1104 1290.3L1064.5 1326.9M1104 1307.7L1064.5 1344.3M1104 1325.1L1064.5 1361.8M1104 1342.5L1064.5 1379.2M1104 1360L1064.5 1396.6M1104 1377.4L1064.5 1414M1104 1394.8L1064.5 1431.4M1104 1412.2L1064.5 1448.9M1104 1429.6L1064.5 1466.3M1104 1447.1L1064.5 1483.7M1104 1464.5L1064.5 1501.1M1104 1481.9L1064.5 1518.6M1104 1499.3L1064.5 1536M1104 1516.8L1064.5 1553.4M1104 1534.2L1064.5 1570.8M1104 1551.6L1064.5 1588.2M1104 1569L1064.5 1605.7M1104 1586.4L1064.5 1623.1M1104 1603.9L1064.5 1640.5M1104 1621.3L1064.5 1657.9M1104 1638.7L1064.5 1675.3M1104 1656.1L1064.5 1692.8M1104 1673.5L1081.7 1694.2M1104 1691L1100.5 1694.2" fill="none" stroke="#000" stroke-width="4.1"/>
<path d="M1063.2 554.8H1105.3A3.2 3.2 0 0 1 1108.5 558V1695.2A3.2 3.2 0 0 1 1105.3 1698.4H1063.2A3.2 3.2 0 0 1 1060 1695.2V558A3.2 3.2 0 0 1 1063.2 554.8ZM1069 563.2H1099.5V1690H1069Z" fill="#000" fill-rule="evenodd"/>
<rect x="1262.6" y="395.7" width="39.5" height="1298.5" fill="#a0a0a0"/>
<path d="M1262.6 414.4L1302.1 414.4M1262.6 432.7L1302.1 432.7M1262.6 450.9L1302.1 450.9M1262.6 469.1L1302.1 469.1M1262.6 487.4L1302.1 487.4M1262.6 505.6L1302.1 505.6M1262.6 523.8L1302.1 523.8M1262.6 542L1302.1 542M1262.6 560.3L1302.1 560.3M1262.6 578.5L1302.1 578.5M1262.6 596.7L1302.1 596.7M1262.6 615L1302.1 615M1262.6 633.2L1302.1 633.2M1262.6 651.4L1302.1 651.4M1262.6 669.6L1302.1 669.6M1262.6 687.9L1302.1 687.9M1262.6 706.1L1302.1 706.1M1262.6 724.3L1302.1 724.3M1262.6 742.6L1302.1 742.6M1262.6 760.8L1302.1 760.8M1262.6 779L1302.1 779M1262.6 797.3L1302.1 797.3M1262.6 815.5L1302.1 815.5M1262.6 833.7L1302.1 833.7M1262.6 852L1302.1 852M1262.6 870.2L1302.1 870.2M1262.6 888.4L1302.1 888.4M1262.6 906.6L1302.1 906.6M1262.6 924.9L1302.1 924.9M1262.6 943.1L1302.1 943.1M1262.6 961.3L1302.1 961.3M1262.6 979.6L1302.1 979.6M1262.6 997.8L1302.1 997.8M1262.6 1016L1302.1 1016M1262.6 1034.2L1302.1 1034.2M1262.6 1052.5L1302.1 1052.5M1262.6 1070.7L1302.1 1070.7M1262.6 1088.9L1302.1 1088.9M1262.6 1107.2L1302.1 1107.2M1262.6 1125.4L1302.1 1125.4M1262.6 1143.6L1302.1 1143.6M1262.6 1161.9L1302.1 1161.9M1262.6 1180.1L1302.1 1180.1M1262.6 1198.3L1302.1 1198.3M1262.6 1216.5L1302.1 1216.5M1262.6 1234.8L1302.1 1234.8M1262.6 1253L1302.1 1253M1262.6 1271.2L1302.1 1271.2M1262.6 1289.5L1302.1 1289.5M1262.6 1307.7L1302.1 1307.7M1262.6 1325.9L1302.1 1325.9M1262.6 1344.2L1302.1 1344.2M1262.6 1362.4L1302.1 1362.4M1262.6 1380.6L1302.1 1380.6M1262.6 1398.8L1302.1 1398.8M1262.6 1417.1L1302.1 1417.1M1262.6 1435.3L1302.1 1435.3M1262.6 1453.5L1302.1 1453.5M1262.6 1471.8L1302.1 1471.8M1262.6 1490L1302.1 1490M1262.6 1508.2L1302.1 1508.2M1262.6 1526.5L1302.1 1526.5M1262.6 1544.7L1302.1 1544.7M1262.6 1562.9L1302.1 1562.9M1262.6 1581.2L1302.1 1581.2M1262.6 1599.4L1302.1 1599.4M1262.6 1617.6L1302.1 1617.6M1262.6 1635.8L1302.1 1635.8M1262.6 1654.1L1302.1 1654.1M1262.6 1672.3L1302.1 1672.3M1262.6 1690.5L1302.1 1690.5" fill="none" stroke="#000" stroke-width="4.1"/>
<path d="M1261.3 391.5H1303.4A3.2 3.2 0 0 1 1306.6 394.7V1695.2A3.2 3.2 0 0 1 1303.4 1698.4H1261.3A3.2 3.2 0 0 1 1258.1 1695.2V394.7A3.2 3.2 0 0 1 1261.3 391.5ZM1267.1 399.9H1297.6V1690H1267.1Z" fill="#000" fill-rule="evenodd"/>
<rect x="1302.1" y="368.3" width="39.5" height="1325.9" fill="#d3d3d3"/>
<path d="M1302.1 1690.7L1305.8 1694.2M1302.1 1651.8L1341.6 1688.7M1302.1 1612.8L1341.6 1649.7M1302.1 1573.8L1341.6 1610.7M1302.1 1534.9L1341.6 1571.8M1302.1 1495.9L1341.6 1532.8M1302.1 1456.9L1341.6 1493.8M1302.1 1417.9L1341.6 1454.9M1302.1 1379L1341.6 1415.9M1302.1 1340L1341.6 1376.9M1302.1 1301L1341.6 1337.9M1302.1 1262.1L1341.6 1299M1302.1 1223.1L1341.6 1260M1302.1 1184.1L1341.6 1221M1302.1 1145.1L1341.6 1182.1M1302.1 1106.2L1341.6 1143.1M1302.1 1067.2L1341.6 1104.1M1302.1 1028.2L1341.6 1065.1M1302.1 989.3L1341.6 1026.2M1302.1 950.3L1341.6 987.2M1302.1 911.3L1341.6 948.2M1302.1 872.3L1341.6 909.3M1302.1 833.4L1341.6 870.3M1302.1 794.4L1341.6 831.3M1302.1 755.4L1341.6 792.3M1302.1 716.4L1341.6 753.4M1302.1 677.5L1341.6 714.4M1302.1 638.5L1341.6 675.4M1302.1 599.5L1341.6 636.4M1302.1 560.6L1341.6 597.5M1302.1 521.6L1341.6 558.5M1302.1 482.6L1341.6 519.5M1302.1 443.6L1341.6 480.6M1302.1 404.7L1341.6 441.6M1304.9 368.3L1341.6 402.6M1341.6 369L1302.1 405.9M1341.6 407.9L1302.1 444.9M1341.6 446.9L1302.1 483.8M1341.6 485.9L1302.1 522.8M1341.6 524.9L1302.1 561.8M1341.6 563.8L1302.1 600.7M1341.6 602.8L1302.1 639.7M1341.6 641.8L1302.1 678.7M1341.6 680.7L1302.1 717.7M1341.6 719.7L1302.1 756.6M1341.6 758.7L1302.1 795.6M1341.6 797.7L1302.1 834.6M1341.6 836.6L1302.1 873.6M1341.6 875.6L1302.1 912.5M1341.6 914.6L1302.1 951.5M1341.6 953.6L1302.1 990.5M1341.6 992.5L1302.1 1029.4M1341.6 1031.5L1302.1 1068.4M1341.6 1070.5L1302.1 1107.4M1341.6 1109.4L1302.1 1146.4M1341.6 1148.4L1302.1 1185.3M1341.6 1187.4L1302.1 1224.3M1341.6 1226.4L1302.1 1263.3M1341.6 1265.3L1302.1 1302.2M1341.6 1304.3L1302.1 1341.2M1341.6 1343.3L1302.1 1380.2M1341.6 1382.2L1302.1 1419.2M1341.6 1421.2L1302.1 1458.1M1341.6 1460.2L1302.1 1497.1M1341.6 1499.2L1302.1 1536.1M1341.6 1538.1L1302.1 1575M1341.6 1577.1L1302.1 1614M1341.6 1616.1L1302.1 1653M1341.6 1655L1302.1 1692M1341.6 1694L1341.4 1694.2" fill="none" stroke="#000" stroke-width="4.1"/>
<path d="M1300.8 364.1H1342.9A3.2 3.2 0 0 1 1346.1 367.3V1695.2A3.2 3.2 0 0 1 1342.9 1698.4H1300.8A3.2 3.2 0 0 1 1297.6 1695.2V367.3A3.2 3.2 0 0 1 1300.8 364.1ZM1306.6 372.5H1337.1V1690H1306.6Z" fill="#000" fill-rule="evenodd"/>
<rect x="1341.6" y="475.7" width="39.5" height="1218.5" fill="#ffffff"/>
<path d="M1341.6 494.2L1381.1 494.2M1341.6 512.5L1381.1 512.5M1341.6 530.7L1381.1 530.7M1341.6 548.9L1381.1 548.9M1341.6 567.1L1381.1 567.1M1341.6 585.4L1381.1 585.4M1341.6 603.6L1381.1 603.6M1341.6 621.8L1381.1 621.8M1341.6 640.1L1381.1 640.1M1341.6 658.3L1381.1 658.3M1341.6 676.5L1381.1 676.5M1341.6 694.8L1381.1 694.8M1341.6 713L1381.1 713M1341.6 731.2L1381.1 731.2M1341.6 749.4L1381.1 749.4M1341.6 767.7L1381.1 767.7M1341.6 785.9L1381.1 785.9M1341.6 804.1L1381.1 804.1M1341.6 822.4L1381.1 822.4M1341.6 840.6L1381.1 840.6M1341.6 858.8L1381.1 858.8M1341.6 877.1L1381.1 877.1M1341.6 895.3L1381.1 895.3M1341.6 913.5L1381.1 913.5M1341.6 931.8L1381.1 931.8M1341.6 950L1381.1 950M1341.6 968.2L1381.1 968.2M1341.6 986.4L1381.1 986.4M1341.6 1004.7L1381.1 1004.7M1341.6 1022.9L1381.1 1022.9M1341.6 1041.1L1381.1 1041.1M1341.6 1059.4L1381.1 1059.4M1341.6 1077.6L1381.1 1077.6M1341.6 1095.8L1381.1 1095.8M1341.6 1114L1381.1 1114M1341.6 1132.3L1381.1 1132.3M1341.6 1150.5L1381.1 1150.5M1341.6 1168.7L1381.1 1168.7M1341.6 1187L1381.1 1187M1341.6 1205.2L1381.1 1205.2M1341.6 1223.4L1381.1 1223.4M1341.6 1241.7L1381.1 1241.7M1341.6 1259.9L1381.1 1259.9M1341.6 1278.1L1381.1 1278.1M1341.6 1296.3L1381.1 1296.3M1341.6 1314.6L1381.1 1314.6M1341.6 1332.8L1381.1 1332.8M1341.6 1351L1381.1 1351M1341.6 1369.3L1381.1 1369.3M1341.6 1387.5L1381.1 1387.5M1341.6 1405.7L1381.1 1405.7M1341.6 1424L1381.1 1424M1341.6 1442.2L1381.1 1442.2M1341.6 1460.4L1381.1 1460.4M1341.6 1478.6L1381.1 1478.6M1341.6 1496.9L1381.1 1496.9M1341.6 1515.1L1381.1 1515.1M1341.6 1533.3L1381.1 1533.3M1341.6 1551.6L1381.1 1551.6M1341.6 1569.8L1381.1 1569.8M1341.6 1588L1381.1 1588M1341.6 1606.3L1381.1 1606.3M1341.6 1624.5L1381.1 1624.5M1341.6 1642.7L1381.1 1642.7M1341.6 1661L1381.1 1661M1341.6 1679.2L1381.1 1679.2M1362.2 475.7L1362.2 1694.2" fill="none" stroke="#000" stroke-width="4.1"/>
<path d="M1340.3 471.5H1382.4A3.2 3.2 0 0 1 1385.6 474.7V1695.2A3.2 3.2 0 0 1 1382.4 1698.4H1340.3A3.2 3.2 0 0 1 1337.1 1695.2V474.7A3.2 3.2 0 0 1 1340.3 471.5ZM1346.1 479.9H1376.6V1690H1346.1Z" fill="#000" fill-rule="evenodd"/>
<rect x="1381.1" y="567.5" width="39.5" height="1126.7" fill="#a0a0a0"/>
<path d="M1381.1 1682.8L1393.3 1694.2M1381.1 1657.5L1420.6 1694.2M1381.1 1632.2L1420.6 1668.9M1381.1 1606.8L1420.6 1643.5M1381.1 1581.5L1420.6 1618.2M1381.1 1556.1L1420.6 1592.8M1381.1 1530.8L1420.6 1567.5M1381.1 1505.4L1420.6 1542.2M1381.1 1480.1L1420.6 1516.8M1381.1 1454.7L1420.6 1491.5M1381.1 1429.4L1420.6 1466.1M1381.1 1404L1420.6 1440.8M1381.1 1378.7L1420.6 1415.4M1381.1 1353.3L1420.6 1390.1M1381.1 1328L1420.6 1364.7M1381.1 1302.6L1420.6 1339.4M1381.1 1277.3L1420.6 1314M1381.1 1251.9L1420.6 1288.7M1381.1 1226.6L1420.6 1263.3M1381.1 1201.2L1420.6 1238M1381.1 1175.9L1420.6 1212.6M1381.1 1150.5L1420.6 1187.3M1381.1 1125.2L1420.6 1161.9M1381.1 1099.8L1420.6 1136.6M1381.1 1074.5L1420.6 1111.2M1381.1 1049.1L1420.6 1085.9M1381.1 1023.8L1420.6 1060.5M1381.1 998.4L1420.6 1035.2M1381.1 973.1L1420.6 1009.8M1381.1 947.7L1420.6 984.5M1381.1 922.4L1420.6 959.1M1381.1 897L1420.6 933.8M1381.1 871.7L1420.6 908.4M1381.1 846.3L1420.6 883.1M1381.1 821L1420.6 857.7M1381.1 795.6L1420.6 832.4M1381.1 770.3L1420.6 807M1381.1 744.9L1420.6 781.7M1381.1 719.6L1420.6 756.3M1381.1 694.2L1420.6 731M1381.1 668.9L1420.6 705.6M1381.1 643.5L1420.6 680.3M1381.1 618.2L1420.6 654.9M1381.1 592.8L1420.6 629.6M1381.1 567.5L1420.6 604.2M1408.4 567.5L1420.6 578.9" fill="none" stroke="#000" stroke-width="4.1"/>
<path d="M1379.8 563.3H1421.9A3.2 3.2 0 0 1 1425.1 566.5V1695.2A3.2 3.2 0 0 1 1421.9 1698.4H1379.8A3.2 3.2 0 0 1 1376.6 1695.2V566.5A3.2 3.2 0 0 1 1379.8 563.3ZM1385.6 571.7H1416.1V1690H1385.6Z" fill="#000" fill-rule="evenodd"/>
<rect x="1420.6" y="732.9" width="39.5" height="961.3" fill="#d3d3d3"/>
<path d="M1437.5 732.9L1420.6 748.6M1456.3 732.9L1420.6 766M1460.1 746.8L1420.6 783.4M1460.1 764.2L1420.6 800.8M1460.1 781.6L1420.6 818.2M1460.1 799L1420.6 835.7M1460.1 816.4L1420.6 853.1M1460.1 833.9L1420.6 870.5M1460.1 851.3L1420.6 887.9M1460.1 868.7L1420.6 905.3M1460.1 886.1L1420.6 922.8M1460.1 903.5L1420.6 940.2M1460.1 921L1420.6 957.6M1460.1 938.4L1420.6 975M1460.1 955.8L1420.6 992.5M1460.1 973.2L1420.6 1009.9M1460.1 990.7L1420.6 1027.3M1460.1 1008.1L1420.6 1044.7M1460.1 1025.5L1420.6 1062.1M1460.1 1042.9L1420.6 1079.6M1460.1 1060.3L1420.6 1097M1460.1 1077.8L1420.6 1114.4M1460.1 1095.2L1420.6 1131.8M1460.1 1112.6L1420.6 1149.2M1460.1 1130L1420.6 1166.7M1460.1 1147.4L1420.6 1184.1M1460.1 1164.9L1420.6 1201.5M1460.1 1182.3L1420.6 1218.9M1460.1 1199.7L1420.6 1236.4M1460.1 1217.1L1420.6 1253.8M1460.1 1234.6L1420.6 1271.2M1460.1 1252L1420.6 1288.6M1460.1 1269.4L1420.6 1306M1460.1 1286.8L1420.6 1323.5M1460.1 1304.2L1420.6 1340.9M1460.1 1321.7L1420.6 1358.3M1460.1 1339.1L1420.6 1375.7M1460.1 1356.5L1420.6 1393.1M1460.1 1373.9L1420.6 1410.6M1460.1 1391.3L1420.6 1428M1460.1 1408.8L1420.6 1445.4M1460.1 1426.2L1420.6 1462.8M1460.1 1443.6L1420.6 1480.2M1460.1 1461L1420.6 1497.7M1460.1 1478.4L1420.6 1515.1M1460.1 1495.9L1420.6 1532.5M1460.1 1513.3L1420.6 1549.9M1460.1 1530.7L1420.6 1567.4M1460.1 1548.1L1420.6 1584.8M1460.1 1565.6L1420.6 1602.2M1460.1 1583L1420.6 1619.6M1460.1 1600.4L1420.6 1637M1460.1 1617.8L1420.6 1654.5M1460.1 1635.2L1420.6 1671.9M1460.1 1652.7L1420.6 1689.3M1460.1 1670.1L1434.1 1694.2M1460.1 1687.5L1452.9 1694.2" fill="none" stroke="#000" stroke-width="4.1"/>
<path d="M1419.3 728.7H1461.4A3.2 3.2 0 0 1 1464.6 731.9V1695.2A3.2 3.2 0 0 1 1461.4 1698.4H1419.3A3.2 3.2 0 0 1 1416.1 1695.2V731.9A3.2 3.2 0 0 1 1419.3 728.7ZM1425.1 737.1H1455.6V1690H1425.1Z" fill="#000" fill-rule="evenodd"/>
<rect x="1460.1" y="572.2" width="39.5" height="1122" fill="#ffffff"/>
<path d="M1460.1 1686.1L1468.8 1694.2M1460.1 1668.7L1487.6 1694.2M1460.1 1651.3L1499.6 1687.9M1460.1 1633.9L1499.6 1670.5M1460.1 1616.4L1499.6 1653.1M1460.1 1599L1499.6 1635.7M1460.1 1581.6L1499.6 1618.2M1460.1 1564.2L1499.6 1600.8M1460.1 1546.8L1499.6 1583.4M1460.1 1529.3L1499.6 1566M1460.1 1511.9L1499.6 1548.6M1460.1 1494.5L1499.6 1531.1M1460.1 1477.1L1499.6 1513.7M1460.1 1459.7L1499.6 1496.3M1460.1 1442.2L1499.6 1478.9M1460.1 1424.8L1499.6 1461.5M1460.1 1407.4L1499.6 1444M1460.1 1390L1499.6 1426.6M1460.1 1372.6L1499.6 1409.2M1460.1 1355.1L1499.6 1391.8M1460.1 1337.7L1499.6 1374.4M1460.1 1320.3L1499.6 1356.9M1460.1 1302.9L1499.6 1339.5M1460.1 1285.4L1499.6 1322.1M1460.1 1268L1499.6 1304.7M1460.1 1250.6L1499.6 1287.2M1460.1 1233.2L1499.6 1269.8M1460.1 1215.8L1499.6 1252.4M1460.1 1198.3L1499.6 1235M1460.1 1180.9L1499.6 1217.6M1460.1 1163.5L1499.6 1200.1M1460.1 1146.1L1499.6 1182.7M1460.1 1128.7L1499.6 1165.3M1460.1 1111.2L1499.6 1147.9M1460.1 1093.8L1499.6 1130.5M1460.1 1076.4L1499.6 1113M1460.1 1059L1499.6 1095.6M1460.1 1041.6L1499.6 1078.2M1460.1 1024.1L1499.6 1060.8M1460.1 1006.7L1499.6 1043.4M1460.1 989.3L1499.6 1025.9M1460.1 971.9L1499.6 1008.5M1460.1 954.4L1499.6 991.1M1460.1 937L1499.6 973.7M1460.1 919.6L1499.6 956.2M1460.1 902.2L1499.6 938.8M1460.1 884.8L1499.6 921.4M1460.1 867.3L1499.6 904M1460.1 849.9L1499.6 886.6M1460.1 832.5L1499.6 869.1M1460.1 815.1L1499.6 851.7M1460.1 797.7L1499.6 834.3M1460.1 780.2L1499.6 816.9M1460.1 762.8L1499.6 799.5M1460.1 745.4L1499.6 782M1460.1 728L1499.6 764.6M1460.1 710.5L1499.6 747.2M1460.1 693.1L1499.6 729.8M1460.1 675.7L1499.6 712.3M1460.1 658.3L1499.6 694.9M1460.1 640.9L1499.6 677.5M1460.1 623.4L1499.6 660.1M1460.1 606L1499.6 642.7M1460.1 588.6L1499.6 625.2M1461.2 572.2L1499.6 607.8M1480 572.2L1499.6 590.4M1498.8 572.2L1499.6 573M1461.6 572.2L1460.1 573.6M1480.4 572.2L1460.1 591M1499.2 572.2L1460.1 608.4M1499.6 589.2L1460.1 625.9M1499.6 606.6L1460.1 643.3M1499.6 624.1L1460.1 660.7M1499.6 641.5L1460.1 678.1M1499.6 658.9L1460.1 695.5M1499.6 676.3L1460.1 713M1499.6 693.7L1460.1 730.4M1499.6 711.2L1460.1 747.8M1499.6 728.6L1460.1 765.2M1499.6 746L1460.1 782.6M1499.6 763.4L1460.1 800.1M1499.6 780.8L1460.1 817.5M1499.6 798.3L1460.1 834.9M1499.6 815.7L1460.1 852.3M1499.6 833.1L1460.1 869.8M1499.6 850.5L1460.1 887.2M1499.6 868L1460.1 904.6M1499.6 885.4L1460.1 922M1499.6 902.8L1460.1 939.4M1499.6 920.2L1460.1 956.9M1499.6 937.6L1460.1 974.3M1499.6 955.1L1460.1 991.7M1499.6 972.5L1460.1 1009.1M1499.6 989.9L1460.1 1026.5M1499.6 1007.3L1460.1 1044M1499.6 1024.7L1460.1 1061.4M1499.6 1042.2L1460.1 1078.8M1499.6 1059.6L1460.1 1096.2M1499.6 1077L1460.1 1113.6M1499.6 1094.4L1460.1 1131.1M1499.6 1111.8L1460.1 1148.5M1499.6 1129.3L1460.1 1165.9M1499.6 1146.7L1460.1 1183.3M1499.6 1164.1L1460.1 1200.8M1499.6 1181.5L1460.1 1218.2M1499.6 1199L1460.1 1235.6M1499.6 1216.4L1460.1 1253M1499.6 1233.8L1460.1 1270.4M1499.6 1251.2L1460.1 1287.9M1499.6 1268.6L1460.1 1305.3M1499.6 1286.1L1460.1 1322.7M1499.6 1303.5L1460.1 1340.1M1499.6 1320.9L1460.1 1357.5M1499.6 1338.3L1460.1 1375M1499.6 1355.7L1460.1 1392.4M1499.6 1373.2L1460.1 1409.8M1499.6 1390.6L1460.1 1427.2M1499.6 1408L1460.1 1444.6M1499.6 1425.4L1460.1 1462.1M1499.6 1442.8L1460.1 1479.5M1499.6 1460.3L1460.1 1496.9M1499.6 1477.7L1460.1 1514.3M1499.6 1495.1L1460.1 1531.8M1499.6 1512.5L1460.1 1549.2M1499.6 1530L1460.1 1566.6M1499.6 1547.4L1460.1 1584M1499.6 1564.8L1460.1 1601.4M1499.6 1582.2L1460.1 1618.9M1499.6 1599.6L1460.1 1636.3M1499.6 1617.1L1460.1 1653.7M1499.6 1634.5L1460.1 1671.1M1499.6 1651.9L1460.1 1688.5M1499.6 1669.3L1472.8 1694.2M1499.6 1686.7L1491.6 1694.2" fill="none" stroke="#000" stroke-width="4.1"/>
<path d="M1458.8 568H1500.9A3.2 3.2 0 0 1 1504.1 571.2V1695.2A3.2 3.2 0 0 1 1500.9 1698.4H1458.8A3.2 3.2 0 0 1 1455.6 1695.2V571.2A3.2 3.2 0 0 1 1458.8 568ZM1464.6 576.4H1495.1V1690H1464.6Z" fill="#000" fill-rule="evenodd"/>
<rect x="1658.2" y="437" width="39.5" height="1257.2" fill="#a0a0a0"/>
<path d="M1658.2 455.7L1697.7 455.7M1658.2 474L1697.7 474M1658.2 492.2L1697.7 492.2M1658.2 510.4L1697.7 510.4M1658.2 528.6L1697.7 528.6M1658.2 546.9L1697.7 546.9M1658.2 565.1L1697.7 565.1M1658.2 583.3L1697.7 583.3M1658.2 601.6L1697.7 601.6M1658.2 619.8L1697.7 619.8M1658.2 638L1697.7 638M1658.2 656.3L1697.7 656.3M1658.2 674.5L1697.7 674.5M1658.2 692.7L1697.7 692.7M1658.2 711L1697.7 711M1658.2 729.2L1697.7 729.2M1658.2 747.4L1697.7 747.4M1658.2 765.6L1697.7 765.6M1658.2 783.9L1697.7 783.9M1658.2 802.1L1697.7 802.1M1658.2 820.3L1697.7 820.3M1658.2 838.6L1697.7 838.6M1658.2 856.8L1697.7 856.8M1658.2 875L1697.7 875M1658.2 893.2L1697.7 893.2M1658.2 911.5L1697.7 911.5M1658.2 929.7L1697.7 929.7M1658.2 947.9L1697.7 947.9M1658.2 966.2L1697.7 966.2M1658.2 984.4L1697.7 984.4M1658.2 1002.6L1697.7 1002.6M1658.2 1020.9L1697.7 1020.9M1658.2 1039.1L1697.7 1039.1M1658.2 1057.3L1697.7 1057.3M1658.2 1075.6L1697.7 1075.6M1658.2 1093.8L1697.7 1093.8M1658.2 1112L1697.7 1112M1658.2 1130.2L1697.7 1130.2M1658.2 1148.5L1697.7 1148.5M1658.2 1166.7L1697.7 1166.7M1658.2 1184.9L1697.7 1184.9M1658.2 1203.2L1697.7 1203.2M1658.2 1221.4L1697.7 1221.4M1658.2 1239.6L1697.7 1239.6M1658.2 1257.8L1697.7 1257.8M1658.2 1276.1L1697.7 1276.1M1658.2 1294.3L1697.7 1294.3M1658.2 1312.5L1697.7 1312.5M1658.2 1330.8L1697.7 1330.8M1658.2 1349L1697.7 1349M1658.2 1367.2L1697.7 1367.2M1658.2 1385.5L1697.7 1385.5M1658.2 1403.7L1697.7 1403.7M1658.2 1421.9L1697.7 1421.9M1658.2 1440.2L1697.7 1440.2M1658.2 1458.4L1697.7 1458.4M1658.2 1476.6L1697.7 1476.6M1658.2 1494.8L1697.7 1494.8M1658.2 1513.1L1697.7 1513.1M1658.2 1531.3L1697.7 1531.3M1658.2 1549.5L1697.7 1549.5M1658.2 1567.8L1697.7 1567.8M1658.2 1586L1697.7 1586M1658.2 1604.2L1697.7 1604.2M1658.2 1622.5L1697.7 1622.5M1658.2 1640.7L1697.7 1640.7M1658.2 1658.9L1697.7 1658.9M1658.2 1677.1L1697.7 1677.1" fill="none" stroke="#000" stroke-width="4.1"/>
<path d="M1656.9 432.8H1699A3.2 3.2 0 0 1 1702.2 436V1695.2A3.2 3.2 0 0 1 1699 1698.4H1656.9A3.2 3.2 0 0 1 1653.7 1695.2V436A3.2 3.2 0 0 1 1656.9 432.8ZM1662.7 441.2H1693.2V1690H1662.7Z" fill="#000" fill-rule="evenodd"/>
<rect x="1697.7" y="396.5" width="39.5" height="1297.7" fill="#d3d3d3"/>
<path d="M1697.7 1680L1712.9 1694.2M1697.7 1641L1737.2 1677.9M1697.7 1602L1737.2 1638.9M1697.7 1563.1L1737.2 1600M1697.7 1524.1L1737.2 1561M1697.7 1485.1L1737.2 1522M1697.7 1446.1L1737.2 1483.1M1697.7 1407.2L1737.2 1444.1M1697.7 1368.2L1737.2 1405.1M1697.7 1329.2L1737.2 1366.1M1697.7 1290.3L1737.2 1327.2M1697.7 1251.3L1737.2 1288.2M1697.7 1212.3L1737.2 1249.2M1697.7 1173.3L1737.2 1210.3M1697.7 1134.4L1737.2 1171.3M1697.7 1095.4L1737.2 1132.3M1697.7 1056.4L1737.2 1093.3M1697.7 1017.5L1737.2 1054.4M1697.7 978.5L1737.2 1015.4M1697.7 939.5L1737.2 976.4M1697.7 900.5L1737.2 937.5M1697.7 861.6L1737.2 898.5M1697.7 822.6L1737.2 859.5M1697.7 783.6L1737.2 820.5M1697.7 744.6L1737.2 781.6M1697.7 705.7L1737.2 742.6M1697.7 666.7L1737.2 703.6M1697.7 627.7L1737.2 664.6M1697.7 588.8L1737.2 625.7M1697.7 549.8L1737.2 586.7M1697.7 510.8L1737.2 547.7M1697.7 471.8L1737.2 508.8M1697.7 432.9L1737.2 469.8M1700.5 396.5L1737.2 430.8M1737.2 397.2L1697.7 434.1M1737.2 436.1L1697.7 473.1M1737.2 475.1L1697.7 512M1737.2 514.1L1697.7 551M1737.2 553.1L1697.7 590M1737.2 592L1697.7 628.9M1737.2 631L1697.7 667.9M1737.2 670L1697.7 706.9M1737.2 708.9L1697.7 745.9M1737.2 747.9L1697.7 784.8M1737.2 786.9L1697.7 823.8M1737.2 825.9L1697.7 862.8M1737.2 864.8L1697.7 901.8M1737.2 903.8L1697.7 940.7M1737.2 942.8L1697.7 979.7M1737.2 981.8L1697.7 1018.7M1737.2 1020.7L1697.7 1057.6M1737.2 1059.7L1697.7 1096.6M1737.2 1098.7L1697.7 1135.6M1737.2 1137.6L1697.7 1174.6M1737.2 1176.6L1697.7 1213.5M1737.2 1215.6L1697.7 1252.5M1737.2 1254.6L1697.7 1291.5M1737.2 1293.5L1697.7 1330.4M1737.2 1332.5L1697.7 1369.4M1737.2 1371.5L1697.7 1408.4M1737.2 1410.4L1697.7 1447.4M1737.2 1449.4L1697.7 1486.3M1737.2 1488.4L1697.7 1525.3M1737.2 1527.4L1697.7 1564.3M1737.2 1566.3L1697.7 1603.2M1737.2 1605.3L1697.7 1642.2M1737.2 1644.3L1697.7 1681.2M1737.2 1683.2L1725.5 1694.2" fill="none" stroke="#000" stroke-width="4.1"/>
<path d="M1696.4 392.3H1738.5A3.2 3.2 0 0 1 1741.7 395.5V1695.2A3.2 3.2 0 0 1 1738.5 1698.4H1696.4A3.2 3.2 0 0 1 1693.2 1695.2V395.5A3.2 3.2 0 0 1 1696.4 392.3ZM1702.2 400.7H1732.7V1690H1702.2Z" fill="#000" fill-rule="evenodd"/>
<rect x="1737.2" y="489.4" width="39.5" height="1204.8" fill="#ffffff"/>
<path d="M1737.2 507.9L1776.7 507.9M1737.2 526.2L1776.7 526.2M1737.2 544.4L1776.7 544.4M1737.2 562.6L1776.7 562.6M1737.2 580.8L1776.7 580.8M1737.2 599.1L1776.7 599.1M1737.2 617.3L1776.7 617.3M1737.2 635.5L1776.7 635.5M1737.2 653.8L1776.7 653.8M1737.2 672L1776.7 672M1737.2 690.2L1776.7 690.2M1737.2 708.5L1776.7 708.5M1737.2 726.7L1776.7 726.7M1737.2 744.9L1776.7 744.9M1737.2 763.1L1776.7 763.1M1737.2 781.4L1776.7 781.4M1737.2 799.6L1776.7 799.6M1737.2 817.8L1776.7 817.8M1737.2 836.1L1776.7 836.1M1737.2 854.3L1776.7 854.3M1737.2 872.5L1776.7 872.5M1737.2 890.8L1776.7 890.8M1737.2 909L1776.7 909M1737.2 927.2L1776.7 927.2M1737.2 945.4L1776.7 945.4M1737.2 963.7L1776.7 963.7M1737.2 981.9L1776.7 981.9M1737.2 1000.1L1776.7 1000.1M1737.2 1018.4L1776.7 1018.4M1737.2 1036.6L1776.7 1036.6M1737.2 1054.8L1776.7 1054.8M1737.2 1073.1L1776.7 1073.1M1737.2 1091.3L1776.7 1091.3M1737.2 1109.5L1776.7 1109.5M1737.2 1127.8L1776.7 1127.8M1737.2 1146L1776.7 1146M1737.2 1164.2L1776.7 1164.2M1737.2 1182.4L1776.7 1182.4M1737.2 1200.7L1776.7 1200.7M1737.2 1218.9L1776.7 1218.9M1737.2 1237.1L1776.7 1237.1M1737.2 1255.4L1776.7 1255.4M1737.2 1273.6L1776.7 1273.6M1737.2 1291.8L1776.7 1291.8M1737.2 1310L1776.7 1310M1737.2 1328.3L1776.7 1328.3M1737.2 1346.5L1776.7 1346.5M1737.2 1364.7L1776.7 1364.7M1737.2 1383L1776.7 1383M1737.2 1401.2L1776.7 1401.2M1737.2 1419.4L1776.7 1419.4M1737.2 1437.7L1776.7 1437.7M1737.2 1455.9L1776.7 1455.9M1737.2 1474.1L1776.7 1474.1M1737.2 1492.3L1776.7 1492.3M1737.2 1510.6L1776.7 1510.6M1737.2 1528.8L1776.7 1528.8M1737.2 1547L1776.7 1547M1737.2 1565.3L1776.7 1565.3M1737.2 1583.5L1776.7 1583.5M1737.2 1601.7L1776.7 1601.7M1737.2 1620L1776.7 1620M1737.2 1638.2L1776.7 1638.2M1737.2 1656.4L1776.7 1656.4M1737.2 1674.6L1776.7 1674.6M1737.2 1692.9L1776.7 1692.9M1757.8 489.4L1757.8 1694.2" fill="none" stroke="#000" stroke-width="4.1"/>
<path d="M1735.9 485.2H1778A3.2 3.2 0 0 1 1781.2 488.4V1695.2A3.2 3.2 0 0 1 1778 1698.4H1735.9A3.2 3.2 0 0 1 1732.7 1695.2V488.4A3.2 3.2 0 0 1 1735.9 485.2ZM1741.7 493.6H1772.2V1690H1741.7Z" fill="#000" fill-rule="evenodd"/>
<rect x="1776.7" y="593.3" width="39.5" height="1100.9" fill="#a0a0a0"/>
<path d="M1776.7 1683.3L1788.4 1694.2M1776.7 1658L1815.7 1694.2M1776.7 1632.6L1816.2 1669.3M1776.7 1607.3L1816.2 1644M1776.7 1581.9L1816.2 1618.6M1776.7 1556.6L1816.2 1593.3M1776.7 1531.2L1816.2 1568M1776.7 1505.9L1816.2 1542.6M1776.7 1480.5L1816.2 1517.3M1776.7 1455.2L1816.2 1491.9M1776.7 1429.8L1816.2 1466.6M1776.7 1404.5L1816.2 1441.2M1776.7 1379.1L1816.2 1415.9M1776.7 1353.8L1816.2 1390.5M1776.7 1328.4L1816.2 1365.2M1776.7 1303.1L1816.2 1339.8M1776.7 1277.7L1816.2 1314.5M1776.7 1252.4L1816.2 1289.1M1776.7 1227L1816.2 1263.8M1776.7 1201.7L1816.2 1238.4M1776.7 1176.3L1816.2 1213.1M1776.7 1151L1816.2 1187.7M1776.7 1125.6L1816.2 1162.4M1776.7 1100.3L1816.2 1137M1776.7 1074.9L1816.2 1111.7M1776.7 1049.6L1816.2 1086.3M1776.7 1024.2L1816.2 1061M1776.7 998.9L1816.2 1035.6M1776.7 973.5L1816.2 1010.3M1776.7 948.2L1816.2 984.9M1776.7 922.8L1816.2 959.6M1776.7 897.5L1816.2 934.2M1776.7 872.1L1816.2 908.9M1776.7 846.8L1816.2 883.5M1776.7 821.4L1816.2 858.2M1776.7 796.1L1816.2 832.8M1776.7 770.7L1816.2 807.5M1776.7 745.4L1816.2 782.1M1776.7 720L1816.2 756.8M1776.7 694.7L1816.2 731.4M1776.7 669.3L1816.2 706.1M1776.7 644L1816.2 680.7M1776.7 618.6L1816.2 655.4M1776.7 593.3L1816.2 630M1804 593.3L1816.2 604.7" fill="none" stroke="#000" stroke-width="4.1"/>
<path d="M1775.4 589.1H1817.5A3.2 3.2 0 0 1 1820.7 592.3V1695.2A3.2 3.2 0 0 1 1817.5 1698.4H1775.4A3.2 3.2 0 0 1 1772.2 1695.2V592.3A3.2 3.2 0 0 1 1775.4 589.1ZM1781.2 597.5H1811.7V1690H1781.2Z" fill="#000" fill-rule="evenodd"/>
<rect x="1816.2" y="757" width="39.5" height="937.2" fill="#d3d3d3"/>
<path d="M1833.1 757L1816.2 772.7M1851.9 757L1816.2 790.1M1855.7 770.9L1816.2 807.5M1855.7 788.3L1816.2 824.9M1855.7 805.7L1816.2 842.3M1855.7 823.1L1816.2 859.8M1855.7 840.5L1816.2 877.2M1855.7 858L1816.2 894.6M1855.7 875.4L1816.2 912M1855.7 892.8L1816.2 929.4M1855.7 910.2L1816.2 946.9M1855.7 927.6L1816.2 964.3M1855.7 945.1L1816.2 981.7M1855.7 962.5L1816.2 999.1M1855.7 979.9L1816.2 1016.6M1855.7 997.3L1816.2 1034M1855.7 1014.8L1816.2 1051.4M1855.7 1032.2L1816.2 1068.8M1855.7 1049.6L1816.2 1086.2M1855.7 1067L1816.2 1103.7M1855.7 1084.4L1816.2 1121.1M1855.7 1101.9L1816.2 1138.5M1855.7 1119.3L1816.2 1155.9M1855.7 1136.7L1816.2 1173.3M1855.7 1154.1L1816.2 1190.8M1855.7 1171.5L1816.2 1208.2M1855.7 1189L1816.2 1225.6M1855.7 1206.4L1816.2 1243M1855.7 1223.8L1816.2 1260.5M1855.7 1241.2L1816.2 1277.9M1855.7 1258.7L1816.2 1295.3M1855.7 1276.1L1816.2 1312.7M1855.7 1293.5L1816.2 1330.1M1855.7 1310.9L1816.2 1347.6M1855.7 1328.3L1816.2 1365M1855.7 1345.8L1816.2 1382.4M1855.7 1363.2L1816.2 1399.8M1855.7 1380.6L1816.2 1417.2M1855.7 1398L1816.2 1434.7M1855.7 1415.4L1816.2 1452.1M1855.7 1432.9L1816.2 1469.5M1855.7 1450.3L1816.2 1486.9M1855.7 1467.7L1816.2 1504.3M1855.7 1485.1L1816.2 1521.8M1855.7 1502.5L1816.2 1539.2M1855.7 1520L1816.2 1556.6M1855.7 1537.4L1816.2 1574M1855.7 1554.8L1816.2 1591.5M1855.7 1572.2L1816.2 1608.9M1855.7 1589.7L1816.2 1626.3M1855.7 1607.1L1816.2 1643.7M1855.7 1624.5L1816.2 1661.1M1855.7 1641.9L1816.2 1678.6M1855.7 1659.3L1818.1 1694.2M1855.7 1676.8L1836.9 1694.2M1855.7 1694.2L1855.7 1694.2" fill="none" stroke="#000" stroke-width="4.1"/>
<path d="M1814.9 752.8H1857A3.2 3.2 0 0 1 1860.2 756V1695.2A3.2 3.2 0 0 1 1857 1698.4H1814.9A3.2 3.2 0 0 1 1811.7 1695.2V756A3.2 3.2 0 0 1 1814.9 752.8ZM1820.7 761.2H1851.2V1690H1820.7Z" fill="#000" fill-rule="evenodd"/>
<rect x="1855.7" y="598" width="39.5" height="1096.2" fill="#ffffff"/>
<path d="M1855.7 1677.1L1874.1 1694.2M1855.7 1659.7L1892.9 1694.2M1855.7 1642.2L1895.2 1678.9M1855.7 1624.8L1895.2 1661.5M1855.7 1607.4L1895.2 1644M1855.7 1590L1895.2 1626.6M1855.7 1572.6L1895.2 1609.2M1855.7 1555.1L1895.2 1591.8M1855.7 1537.7L1895.2 1574.4M1855.7 1520.3L1895.2 1556.9M1855.7 1502.9L1895.2 1539.5M1855.7 1485.5L1895.2 1522.1M1855.7 1468L1895.2 1504.7M1855.7 1450.6L1895.2 1487.3M1855.7 1433.2L1895.2 1469.8M1855.7 1415.8L1895.2 1452.4M1855.7 1398.4L1895.2 1435M1855.7 1380.9L1895.2 1417.6M1855.7 1363.5L1895.2 1400.2M1855.7 1346.1L1895.2 1382.7M1855.7 1328.7L1895.2 1365.3M1855.7 1311.2L1895.2 1347.9M1855.7 1293.8L1895.2 1330.5M1855.7 1276.4L1895.2 1313M1855.7 1259L1895.2 1295.6M1855.7 1241.6L1895.2 1278.2M1855.7 1224.1L1895.2 1260.8M1855.7 1206.7L1895.2 1243.4M1855.7 1189.3L1895.2 1225.9M1855.7 1171.9L1895.2 1208.5M1855.7 1154.5L1895.2 1191.1M1855.7 1137L1895.2 1173.7M1855.7 1119.6L1895.2 1156.3M1855.7 1102.2L1895.2 1138.8M1855.7 1084.8L1895.2 1121.4M1855.7 1067.4L1895.2 1104M1855.7 1049.9L1895.2 1086.6M1855.7 1032.5L1895.2 1069.2M1855.7 1015.1L1895.2 1051.7M1855.7 997.7L1895.2 1034.3M1855.7 980.2L1895.2 1016.9M1855.7 962.8L1895.2 999.5M1855.7 945.4L1895.2 982M1855.7 928L1895.2 964.6M1855.7 910.6L1895.2 947.2M1855.7 893.1L1895.2 929.8M1855.7 875.7L1895.2 912.4M1855.7 858.3L1895.2 894.9M1855.7 840.9L1895.2 877.5M1855.7 823.5L1895.2 860.1M1855.7 806L1895.2 842.7M1855.7 788.6L1895.2 825.3M1855.7 771.2L1895.2 807.8M1855.7 753.8L1895.2 790.4M1855.7 736.3L1895.2 773M1855.7 718.9L1895.2 755.6M1855.7 701.5L1895.2 738.1M1855.7 684.1L1895.2 720.7M1855.7 666.7L1895.2 703.3M1855.7 649.2L1895.2 685.9M1855.7 631.8L1895.2 668.5M1855.7 614.4L1895.2 651M1856.8 598L1895.2 633.6M1875.6 598L1895.2 616.2M1894.4 598L1895.2 598.8M1857.2 598L1855.7 599.4M1876 598L1855.7 616.8M1894.8 598L1855.7 634.2M1895.2 615L1855.7 651.7M1895.2 632.4L1855.7 669.1M1895.2 649.9L1855.7 686.5M1895.2 667.3L1855.7 703.9M1895.2 684.7L1855.7 721.3M1895.2 702.1L1855.7 738.8M1895.2 719.5L1855.7 756.2M1895.2 737L1855.7 773.6M1895.2 754.4L1855.7 791M1895.2 771.8L1855.7 808.4M1895.2 789.2L1855.7 825.9M1895.2 806.6L1855.7 843.3M1895.2 824.1L1855.7 860.7M1895.2 841.5L1855.7 878.1M1895.2 858.9L1855.7 895.6M1895.2 876.3L1855.7 913M1895.2 893.8L1855.7 930.4M1895.2 911.2L1855.7 947.8M1895.2 928.6L1855.7 965.2M1895.2 946L1855.7 982.7M1895.2 963.4L1855.7 1000.1M1895.2 980.9L1855.7 1017.5M1895.2 998.3L1855.7 1034.9M1895.2 1015.7L1855.7 1052.3M1895.2 1033.1L1855.7 1069.8M1895.2 1050.5L1855.7 1087.2M1895.2 1068L1855.7 1104.6M1895.2 1085.4L1855.7 1122M1895.2 1102.8L1855.7 1139.4M1895.2 1120.2L1855.7 1156.9M1895.2 1137.6L1855.7 1174.3M1895.2 1155.1L1855.7 1191.7M1895.2 1172.5L1855.7 1209.1M1895.2 1189.9L1855.7 1226.6M1895.2 1207.3L1855.7 1244M1895.2 1224.8L1855.7 1261.4M1895.2 1242.2L1855.7 1278.8M1895.2 1259.6L1855.7 1296.2M1895.2 1277L1855.7 1313.7M1895.2 1294.4L1855.7 1331.1M1895.2 1311.9L1855.7 1348.5M1895.2 1329.3L1855.7 1365.9M1895.2 1346.7L1855.7 1383.3M1895.2 1364.1L1855.7 1400.8M1895.2 1381.5L1855.7 1418.2M1895.2 1399L1855.7 1435.6M1895.2 1416.4L1855.7 1453M1895.2 1433.8L1855.7 1470.4M1895.2 1451.2L1855.7 1487.9M1895.2 1468.6L1855.7 1505.3M1895.2 1486.1L1855.7 1522.7M1895.2 1503.5L1855.7 1540.1M1895.2 1520.9L1855.7 1557.6M1895.2 1538.3L1855.7 1575M1895.2 1555.8L1855.7 1592.4M1895.2 1573.2L1855.7 1609.8M1895.2 1590.6L1855.7 1627.2M1895.2 1608L1855.7 1644.7M1895.2 1625.4L1855.7 1662.1M1895.2 1642.9L1855.7 1679.5M1895.2 1660.3L1858.6 1694.2M1895.2 1677.7L1877.4 1694.2" fill="none" stroke="#000" stroke-width="4.1"/>
<path d="M1854.4 593.8H1896.5A3.2 3.2 0 0 1 1899.7 597V1695.2A3.2 3.2 0 0 1 1896.5 1698.4H1854.4A3.2 3.2 0 0 1 1851.2 1695.2V597A3.2 3.2 0 0 1 1854.4 593.8ZM1860.2 602.2H1890.7V1690H1860.2Z" fill="#000" fill-rule="evenodd"/>
<rect x="2053.8" y="465.4" width="39.5" height="1228.8" fill="#a0a0a0"/>
<path d="M2053.8 484.1L2093.3 484.1M2053.8 502.4L2093.3 502.4M2053.8 520.6L2093.3 520.6M2053.8 538.8L2093.3 538.8M2053.8 557L2093.3 557M2053.8 575.3L2093.3 575.3M2053.8 593.5L2093.3 593.5M2053.8 611.7L2093.3 611.7M2053.8 630L2093.3 630M2053.8 648.2L2093.3 648.2M2053.8 666.4L2093.3 666.4M2053.8 684.7L2093.3 684.7M2053.8 702.9L2093.3 702.9M2053.8 721.1L2093.3 721.1M2053.8 739.3L2093.3 739.3M2053.8 757.6L2093.3 757.6M2053.8 775.8L2093.3 775.8M2053.8 794L2093.3 794M2053.8 812.3L2093.3 812.3M2053.8 830.5L2093.3 830.5M2053.8 848.7L2093.3 848.7M2053.8 867L2093.3 867M2053.8 885.2L2093.3 885.2M2053.8 903.4L2093.3 903.4M2053.8 921.6L2093.3 921.6M2053.8 939.9L2093.3 939.9M2053.8 958.1L2093.3 958.1M2053.8 976.3L2093.3 976.3M2053.8 994.6L2093.3 994.6M2053.8 1012.8L2093.3 1012.8M2053.8 1031L2093.3 1031M2053.8 1049.3L2093.3 1049.3M2053.8 1067.5L2093.3 1067.5M2053.8 1085.7L2093.3 1085.7M2053.8 1104L2093.3 1104M2053.8 1122.2L2093.3 1122.2M2053.8 1140.4L2093.3 1140.4M2053.8 1158.6L2093.3 1158.6M2053.8 1176.9L2093.3 1176.9M2053.8 1195.1L2093.3 1195.1M2053.8 1213.3L2093.3 1213.3M2053.8 1231.6L2093.3 1231.6M2053.8 1249.8L2093.3 1249.8M2053.8 1268L2093.3 1268M2053.8 1286.2L2093.3 1286.2M2053.8 1304.5L2093.3 1304.5M2053.8 1322.7L2093.3 1322.7M2053.8 1340.9L2093.3 1340.9M2053.8 1359.2L2093.3 1359.2M2053.8 1377.4L2093.3 1377.4M2053.8 1395.6L2093.3 1395.6M2053.8 1413.9L2093.3 1413.9M2053.8 1432.1L2093.3 1432.1M2053.8 1450.3L2093.3 1450.3M2053.8 1468.5L2093.3 1468.5M2053.8 1486.8L2093.3 1486.8M2053.8 1505L2093.3 1505M2053.8 1523.2L2093.3 1523.2M2053.8 1541.5L2093.3 1541.5M2053.8 1559.7L2093.3 1559.7M2053.8 1577.9L2093.3 1577.9M2053.8 1596.2L2093.3 1596.2M2053.8 1614.4L2093.3 1614.4M2053.8 1632.6L2093.3 1632.6M2053.8 1650.8L2093.3 1650.8M2053.8 1669.1L2093.3 1669.1M2053.8 1687.3L2093.3 1687.3" fill="none" stroke="#000" stroke-width="4.1"/>
<path d="M2052.5 461.2H2094.6A3.2 3.2 0 0 1 2097.8 464.4V1695.2A3.2 3.2 0 0 1 2094.6 1698.4H2052.5A3.2 3.2 0 0 1 2049.3 1695.2V464.4A3.2 3.2 0 0 1 2052.5 461.2ZM2058.3 469.6H2088.8V1690H2058.3Z" fill="#000" fill-rule="evenodd"/>
<rect x="2093.3" y="411.1" width="39.5" height="1283.1" fill="#d3d3d3"/>
<path d="M2093.3 1655.6L2132.8 1692.5M2093.3 1616.6L2132.8 1653.5M2093.3 1577.7L2132.8 1614.6M2093.3 1538.7L2132.8 1575.6M2093.3 1499.7L2132.8 1536.6M2093.3 1460.7L2132.8 1497.7M2093.3 1421.8L2132.8 1458.7M2093.3 1382.8L2132.8 1419.7M2093.3 1343.8L2132.8 1380.7M2093.3 1304.9L2132.8 1341.8M2093.3 1265.9L2132.8 1302.8M2093.3 1226.9L2132.8 1263.8M2093.3 1187.9L2132.8 1224.9M2093.3 1149L2132.8 1185.9M2093.3 1110L2132.8 1146.9M2093.3 1071L2132.8 1107.9M2093.3 1032.1L2132.8 1069M2093.3 993.1L2132.8 1030M2093.3 954.1L2132.8 991M2093.3 915.1L2132.8 952.1M2093.3 876.2L2132.8 913.1M2093.3 837.2L2132.8 874.1M2093.3 798.2L2132.8 835.1M2093.3 759.2L2132.8 796.2M2093.3 720.3L2132.8 757.2M2093.3 681.3L2132.8 718.2M2093.3 642.3L2132.8 679.2M2093.3 603.4L2132.8 640.3M2093.3 564.4L2132.8 601.3M2093.3 525.4L2132.8 562.3M2093.3 486.4L2132.8 523.4M2093.3 447.5L2132.8 484.4M2096.1 411.1L2132.8 445.4M2132.8 411.8L2093.3 448.7M2132.8 450.7L2093.3 487.7M2132.8 489.7L2093.3 526.6M2132.8 528.7L2093.3 565.6M2132.8 567.7L2093.3 604.6M2132.8 606.6L2093.3 643.5M2132.8 645.6L2093.3 682.5M2132.8 684.6L2093.3 721.5M2132.8 723.5L2093.3 760.5M2132.8 762.5L2093.3 799.4M2132.8 801.5L2093.3 838.4M2132.8 840.5L2093.3 877.4M2132.8 879.4L2093.3 916.4M2132.8 918.4L2093.3 955.3M2132.8 957.4L2093.3 994.3M2132.8 996.4L2093.3 1033.3M2132.8 1035.3L2093.3 1072.2M2132.8 1074.3L2093.3 1111.2M2132.8 1113.3L2093.3 1150.2M2132.8 1152.2L2093.3 1189.2M2132.8 1191.2L2093.3 1228.1M2132.8 1230.2L2093.3 1267.1M2132.8 1269.2L2093.3 1306.1M2132.8 1308.1L2093.3 1345M2132.8 1347.1L2093.3 1384M2132.8 1386.1L2093.3 1423M2132.8 1425L2093.3 1462M2132.8 1464L2093.3 1500.9M2132.8 1503L2093.3 1539.9M2132.8 1542L2093.3 1578.9M2132.8 1580.9L2093.3 1617.8M2132.8 1619.9L2093.3 1656.8M2132.8 1658.9L2095 1694.2" fill="none" stroke="#000" stroke-width="4.1"/>
<path d="M2092 406.9H2134.1A3.2 3.2 0 0 1 2137.3 410.1V1695.2A3.2 3.2 0 0 1 2134.1 1698.4H2092A3.2 3.2 0 0 1 2088.8 1695.2V410.1A3.2 3.2 0 0 1 2092 406.9ZM2097.8 415.3H2128.3V1690H2097.8Z" fill="#000" fill-rule="evenodd"/>
<rect x="2132.8" y="503.5" width="39.5" height="1190.7" fill="#ffffff"/>
<path d="M2132.8 522L2172.3 522M2132.8 540.3L2172.3 540.3M2132.8 558.5L2172.3 558.5M2132.8 576.7L2172.3 576.7M2132.8 594.9L2172.3 594.9M2132.8 613.2L2172.3 613.2M2132.8 631.4L2172.3 631.4M2132.8 649.6L2172.3 649.6M2132.8 667.9L2172.3 667.9M2132.8 686.1L2172.3 686.1M2132.8 704.3L2172.3 704.3M2132.8 722.6L2172.3 722.6M2132.8 740.8L2172.3 740.8M2132.8 759L2172.3 759M2132.8 777.2L2172.3 777.2M2132.8 795.5L2172.3 795.5M2132.8 813.7L2172.3 813.7M2132.8 831.9L2172.3 831.9M2132.8 850.2L2172.3 850.2M2132.8 868.4L2172.3 868.4M2132.8 886.6L2172.3 886.6M2132.8 904.9L2172.3 904.9M2132.8 923.1L2172.3 923.1M2132.8 941.3L2172.3 941.3M2132.8 959.5L2172.3 959.5M2132.8 977.8L2172.3 977.8M2132.8 996L2172.3 996M2132.8 1014.2L2172.3 1014.2M2132.8 1032.5L2172.3 1032.5M2132.8 1050.7L2172.3 1050.7M2132.8 1068.9L2172.3 1068.9M2132.8 1087.2L2172.3 1087.2M2132.8 1105.4L2172.3 1105.4M2132.8 1123.6L2172.3 1123.6M2132.8 1141.9L2172.3 1141.9M2132.8 1160.1L2172.3 1160.1M2132.8 1178.3L2172.3 1178.3M2132.8 1196.5L2172.3 1196.5M2132.8 1214.8L2172.3 1214.8M2132.8 1233L2172.3 1233M2132.8 1251.2L2172.3 1251.2M2132.8 1269.5L2172.3 1269.5M2132.8 1287.7L2172.3 1287.7M2132.8 1305.9L2172.3 1305.9M2132.8 1324.1L2172.3 1324.1M2132.8 1342.4L2172.3 1342.4M2132.8 1360.6L2172.3 1360.6M2132.8 1378.8L2172.3 1378.8M2132.8 1397.1L2172.3 1397.1M2132.8 1415.3L2172.3 1415.3M2132.8 1433.5L2172.3 1433.5M2132.8 1451.8L2172.3 1451.8M2132.8 1470L2172.3 1470M2132.8 1488.2L2172.3 1488.2M2132.8 1506.5L2172.3 1506.5M2132.8 1524.7L2172.3 1524.7M2132.8 1542.9L2172.3 1542.9M2132.8 1561.1L2172.3 1561.1M2132.8 1579.4L2172.3 1579.4M2132.8 1597.6L2172.3 1597.6M2132.8 1615.8L2172.3 1615.8M2132.8 1634.1L2172.3 1634.1M2132.8 1652.3L2172.3 1652.3M2132.8 1670.5L2172.3 1670.5M2132.8 1688.8L2172.3 1688.8M2153.4 503.5L2153.4 1694.2" fill="none" stroke="#000" stroke-width="4.1"/>
<path d="M2131.5 499.3H2173.6A3.2 3.2 0 0 1 2176.8 502.5V1695.2A3.2 3.2 0 0 1 2173.6 1698.4H2131.5A3.2 3.2 0 0 1 2128.3 1695.2V502.5A3.2 3.2 0 0 1 2131.5 499.3ZM2137.3 507.7H2167.8V1690H2137.3Z" fill="#000" fill-rule="evenodd"/>
<rect x="2172.3" y="606.2" width="39.5" height="1088" fill="#a0a0a0"/>
<path d="M2172.3 1670.9L2197.4 1694.2M2172.3 1645.5L2211.8 1682.2M2172.3 1620.2L2211.8 1656.9M2172.3 1594.8L2211.8 1631.5M2172.3 1569.5L2211.8 1606.2M2172.3 1544.1L2211.8 1580.9M2172.3 1518.8L2211.8 1555.5M2172.3 1493.4L2211.8 1530.2M2172.3 1468.1L2211.8 1504.8M2172.3 1442.7L2211.8 1479.5M2172.3 1417.4L2211.8 1454.1M2172.3 1392L2211.8 1428.8M2172.3 1366.7L2211.8 1403.4M2172.3 1341.3L2211.8 1378.1M2172.3 1316L2211.8 1352.7M2172.3 1290.6L2211.8 1327.4M2172.3 1265.3L2211.8 1302M2172.3 1239.9L2211.8 1276.7M2172.3 1214.6L2211.8 1251.3M2172.3 1189.2L2211.8 1226M2172.3 1163.9L2211.8 1200.6M2172.3 1138.5L2211.8 1175.3M2172.3 1113.2L2211.8 1149.9M2172.3 1087.8L2211.8 1124.6M2172.3 1062.5L2211.8 1099.2M2172.3 1037.1L2211.8 1073.9M2172.3 1011.8L2211.8 1048.5M2172.3 986.4L2211.8 1023.2M2172.3 961.1L2211.8 997.8M2172.3 935.7L2211.8 972.5M2172.3 910.4L2211.8 947.1M2172.3 885L2211.8 921.8M2172.3 859.7L2211.8 896.4M2172.3 834.3L2211.8 871.1M2172.3 809L2211.8 845.7M2172.3 783.6L2211.8 820.4M2172.3 758.3L2211.8 795M2172.3 732.9L2211.8 769.7M2172.3 707.6L2211.8 744.3M2172.3 682.2L2211.8 719M2172.3 656.9L2211.8 693.6M2172.3 631.5L2211.8 668.3M2172.3 606.2L2211.8 642.9M2199.6 606.2L2211.8 617.6" fill="none" stroke="#000" stroke-width="4.1"/>
<path d="M2171 602H2213.1A3.2 3.2 0 0 1 2216.3 605.2V1695.2A3.2 3.2 0 0 1 2213.1 1698.4H2171A3.2 3.2 0 0 1 2167.8 1695.2V605.2A3.2 3.2 0 0 1 2171 602ZM2176.8 610.4H2207.3V1690H2176.8Z" fill="#000" fill-rule="evenodd"/>
<rect x="2211.8" y="768.2" width="39.5" height="926" fill="#d3d3d3"/>
<path d="M2228.7 768.2L2211.8 783.9M2247.5 768.2L2211.8 801.3M2251.3 782.1L2211.8 818.7M2251.3 799.5L2211.8 836.1M2251.3 816.9L2211.8 853.5M2251.3 834.3L2211.8 871M2251.3 851.7L2211.8 888.4M2251.3 869.2L2211.8 905.8M2251.3 886.6L2211.8 923.2M2251.3 904L2211.8 940.6M2251.3 921.4L2211.8 958.1M2251.3 938.8L2211.8 975.5M2251.3 956.3L2211.8 992.9M2251.3 973.7L2211.8 1010.3M2251.3 991.1L2211.8 1027.8M2251.3 1008.5L2211.8 1045.2M2251.3 1026L2211.8 1062.6M2251.3 1043.4L2211.8 1080M2251.3 1060.8L2211.8 1097.4M2251.3 1078.2L2211.8 1114.9M2251.3 1095.6L2211.8 1132.3M2251.3 1113.1L2211.8 1149.7M2251.3 1130.5L2211.8 1167.1M2251.3 1147.9L2211.8 1184.5M2251.3 1165.3L2211.8 1202M2251.3 1182.7L2211.8 1219.4M2251.3 1200.2L2211.8 1236.8M2251.3 1217.6L2211.8 1254.2M2251.3 1235L2211.8 1271.7M2251.3 1252.4L2211.8 1289.1M2251.3 1269.9L2211.8 1306.5M2251.3 1287.3L2211.8 1323.9M2251.3 1304.7L2211.8 1341.3M2251.3 1322.1L2211.8 1358.8M2251.3 1339.5L2211.8 1376.2M2251.3 1357L2211.8 1393.6M2251.3 1374.4L2211.8 1411M2251.3 1391.8L2211.8 1428.4M2251.3 1409.2L2211.8 1445.9M2251.3 1426.6L2211.8 1463.3M2251.3 1444.1L2211.8 1480.7M2251.3 1461.5L2211.8 1498.1M2251.3 1478.9L2211.8 1515.5M2251.3 1496.3L2211.8 1533M2251.3 1513.7L2211.8 1550.4M2251.3 1531.2L2211.8 1567.8M2251.3 1548.6L2211.8 1585.2M2251.3 1566L2211.8 1602.7M2251.3 1583.4L2211.8 1620.1M2251.3 1600.9L2211.8 1637.5M2251.3 1618.3L2211.8 1654.9M2251.3 1635.7L2211.8 1672.3M2251.3 1653.1L2211.8 1689.8M2251.3 1670.5L2225.8 1694.2M2251.3 1688L2244.6 1694.2" fill="none" stroke="#000" stroke-width="4.1"/>
<path d="M2210.5 764H2252.6A3.2 3.2 0 0 1 2255.8 767.2V1695.2A3.2 3.2 0 0 1 2252.6 1698.4H2210.5A3.2 3.2 0 0 1 2207.3 1695.2V767.2A3.2 3.2 0 0 1 2210.5 764ZM2216.3 772.4H2246.8V1690H2216.3Z" fill="#000" fill-rule="evenodd"/>
<rect x="2251.3" y="611.3" width="39.5" height="1082.9" fill="#ffffff"/>
<path d="M2251.3 1690.4L2255.4 1694.2M2251.3 1673L2274.2 1694.2M2251.3 1655.5L2290.8 1692.2M2251.3 1638.1L2290.8 1674.8M2251.3 1620.7L2290.8 1657.3M2251.3 1603.3L2290.8 1639.9M2251.3 1585.9L2290.8 1622.5M2251.3 1568.4L2290.8 1605.1M2251.3 1551L2290.8 1587.7M2251.3 1533.6L2290.8 1570.2M2251.3 1516.2L2290.8 1552.8M2251.3 1498.8L2290.8 1535.4M2251.3 1481.3L2290.8 1518M2251.3 1463.9L2290.8 1500.6M2251.3 1446.5L2290.8 1483.1M2251.3 1429.1L2290.8 1465.7M2251.3 1411.7L2290.8 1448.3M2251.3 1394.2L2290.8 1430.9M2251.3 1376.8L2290.8 1413.5M2251.3 1359.4L2290.8 1396M2251.3 1342L2290.8 1378.6M2251.3 1324.5L2290.8 1361.2M2251.3 1307.1L2290.8 1343.8M2251.3 1289.7L2290.8 1326.3M2251.3 1272.3L2290.8 1308.9M2251.3 1254.9L2290.8 1291.5M2251.3 1237.4L2290.8 1274.1M2251.3 1220L2290.8 1256.7M2251.3 1202.6L2290.8 1239.2M2251.3 1185.2L2290.8 1221.8M2251.3 1167.8L2290.8 1204.4M2251.3 1150.3L2290.8 1187M2251.3 1132.9L2290.8 1169.6M2251.3 1115.5L2290.8 1152.1M2251.3 1098.1L2290.8 1134.7M2251.3 1080.7L2290.8 1117.3M2251.3 1063.2L2290.8 1099.9M2251.3 1045.8L2290.8 1082.5M2251.3 1028.4L2290.8 1065M2251.3 1011L2290.8 1047.6M2251.3 993.5L2290.8 1030.2M2251.3 976.1L2290.8 1012.8M2251.3 958.7L2290.8 995.3M2251.3 941.3L2290.8 977.9M2251.3 923.9L2290.8 960.5M2251.3 906.4L2290.8 943.1M2251.3 889L2290.8 925.7M2251.3 871.6L2290.8 908.2M2251.3 854.2L2290.8 890.8M2251.3 836.8L2290.8 873.4M2251.3 819.3L2290.8 856M2251.3 801.9L2290.8 838.6M2251.3 784.5L2290.8 821.1M2251.3 767.1L2290.8 803.7M2251.3 749.6L2290.8 786.3M2251.3 732.2L2290.8 768.9M2251.3 714.8L2290.8 751.4M2251.3 697.4L2290.8 734M2251.3 680L2290.8 716.6M2251.3 662.5L2290.8 699.2M2251.3 645.1L2290.8 681.8M2251.3 627.7L2290.8 664.3M2252.4 611.3L2290.8 646.9M2271.2 611.3L2290.8 629.5M2290 611.3L2290.8 612.1M2252.8 611.3L2251.3 612.7M2271.6 611.3L2251.3 630.1M2290.4 611.3L2251.3 647.5M2290.8 628.3L2251.3 665M2290.8 645.7L2251.3 682.4M2290.8 663.2L2251.3 699.8M2290.8 680.6L2251.3 717.2M2290.8 698L2251.3 734.6M2290.8 715.4L2251.3 752.1M2290.8 732.8L2251.3 769.5M2290.8 750.3L2251.3 786.9M2290.8 767.7L2251.3 804.3M2290.8 785.1L2251.3 821.7M2290.8 802.5L2251.3 839.2M2290.8 819.9L2251.3 856.6M2290.8 837.4L2251.3 874M2290.8 854.8L2251.3 891.4M2290.8 872.2L2251.3 908.9M2290.8 889.6L2251.3 926.3M2290.8 907.1L2251.3 943.7M2290.8 924.5L2251.3 961.1M2290.8 941.9L2251.3 978.5M2290.8 959.3L2251.3 996M2290.8 976.7L2251.3 1013.4M2290.8 994.2L2251.3 1030.8M2290.8 1011.6L2251.3 1048.2M2290.8 1029L2251.3 1065.6M2290.8 1046.4L2251.3 1083.1M2290.8 1063.8L2251.3 1100.5M2290.8 1081.3L2251.3 1117.9M2290.8 1098.7L2251.3 1135.3M2290.8 1116.1L2251.3 1152.7M2290.8 1133.5L2251.3 1170.2M2290.8 1150.9L2251.3 1187.6M2290.8 1168.4L2251.3 1205M2290.8 1185.8L2251.3 1222.4M2290.8 1203.2L2251.3 1239.9M2290.8 1220.6L2251.3 1257.3M2290.8 1238.1L2251.3 1274.7M2290.8 1255.5L2251.3 1292.1M2290.8 1272.9L2251.3 1309.5M2290.8 1290.3L2251.3 1327M2290.8 1307.7L2251.3 1344.4M2290.8 1325.2L2251.3 1361.8M2290.8 1342.6L2251.3 1379.2M2290.8 1360L2251.3 1396.6M2290.8 1377.4L2251.3 1414.1M2290.8 1394.8L2251.3 1431.5M2290.8 1412.3L2251.3 1448.9M2290.8 1429.7L2251.3 1466.3M2290.8 1447.1L2251.3 1483.7M2290.8 1464.5L2251.3 1501.2M2290.8 1481.9L2251.3 1518.6M2290.8 1499.4L2251.3 1536M2290.8 1516.8L2251.3 1553.4M2290.8 1534.2L2251.3 1570.9M2290.8 1551.6L2251.3 1588.3M2290.8 1569.1L2251.3 1605.7M2290.8 1586.5L2251.3 1623.1M2290.8 1603.9L2251.3 1640.5M2290.8 1621.3L2251.3 1658M2290.8 1638.7L2251.3 1675.4M2290.8 1656.2L2251.3 1692.8M2290.8 1673.6L2268.6 1694.2M2290.8 1691L2287.4 1694.2" fill="none" stroke="#000" stroke-width="4.1"/>
<path d="M2250 607.1H2292.1A3.2 3.2 0 0 1 2295.3 610.3V1695.2A3.2 3.2 0 0 1 2292.1 1698.4H2250A3.2 3.2 0 0 1 2246.8 1695.2V610.3A3.2 3.2 0 0 1 2250 607.1ZM2255.8 615.5H2286.3V1690H2255.8Z" fill="#000" fill-rule="evenodd"/>
</g>
<text transform="translate(344 1696.4) scale(1 1.04)" font-size="56" text-anchor="end">0</text>
<text transform="translate(344 1423.4) scale(1 1.04)" font-size="56" text-anchor="end">20</text>
<text transform="translate(344 1150.4) scale(1 1.04)" font-size="56" text-anchor="end">40</text>
<text transform="translate(344 877.3) scale(1 1.04)" font-size="56" text-anchor="end">60</text>
<text transform="translate(344 604.3) scale(1 1.04)" font-size="56" text-anchor="end">80</text>
<text transform="translate(344 331.3) scale(1 1.04)" font-size="56" text-anchor="end">100</text>
<text transform="translate(589.9 1766.3) scale(1 1.04)" font-size="56" text-anchor="middle">1</text>
<text transform="translate(985.5 1766.3) scale(1 1.04)" font-size="56" text-anchor="middle">2</text>
<text transform="translate(1381.1 1766.3) scale(1 1.04)" font-size="56" text-anchor="middle">3</text>
<text transform="translate(1776.7 1766.3) scale(1 1.04)" font-size="56" text-anchor="middle">4</text>
<text transform="translate(2172.3 1766.3) scale(1 1.04)" font-size="56" text-anchor="middle">5</text>
<text x="1381.5" y="1875.5" font-size="67" text-anchor="middle">Cycle</text>
<text transform="translate(143.8 998.3) rotate(-90)" font-size="66.6" text-anchor="middle">Degradation percentage (%)</text>
<rect x="465" y="71" width="1824" height="203.5" fill="#fff" stroke="#000" stroke-width="4"/>
<rect x="483.4" y="85.2" width="155.2" height="55.4" fill="#a0a0a0"/>
<path d="M483.4 103.9L638.6 103.9M483.4 122.2L638.6 122.2M483.4 140.4L638.6 140.4" fill="none" stroke="#000" stroke-width="4.1"/>
<path d="M482.1 81H639.9A3.2 3.2 0 0 1 643.1 84.2V141.6A3.2 3.2 0 0 1 639.9 144.8H482.1A3.2 3.2 0 0 1 478.9 141.6V84.2A3.2 3.2 0 0 1 482.1 81ZM487.9 89.4H634.1V136.4H487.9Z" fill="#000" fill-rule="evenodd"/>
<rect x="483.2" y="189.3" width="155.4" height="55.3" fill="#a0a0a0"/>
<path d="M483.2 240L488.1 244.6M483.2 214.6L515.4 244.6M483.2 189.3L542.6 244.6M510.4 189.3L569.9 244.6M537.7 189.3L597.1 244.6M565 189.3L624.4 244.6M592.2 189.3L638.6 232.5M619.5 189.3L638.6 207.1" fill="none" stroke="#000" stroke-width="4.1"/>
<path d="M481.9 185.1H639.9A3.2 3.2 0 0 1 643.1 188.3V245.6A3.2 3.2 0 0 1 639.9 248.8H481.9A3.2 3.2 0 0 1 478.7 245.6V188.3A3.2 3.2 0 0 1 481.9 185.1ZM487.7 193.5H634.1V240.4H487.7Z" fill="#000" fill-rule="evenodd"/>
<rect x="920.2" y="85.2" width="155.4" height="55.2" fill="#d3d3d3"/>
<path d="M920.2 123.6L938.2 140.4M920.8 85.2L979.9 140.4M962.5 85.2L1021.6 140.4M1004.2 85.2L1063.3 140.4M1045.9 85.2L1075.6 112.9M922 85.2L920.2 86.9M963.7 85.2L920.2 125.8M1005.4 85.2L946.3 140.4M1047.1 85.2L988 140.4M1075.6 97.6L1029.7 140.4M1075.6 136.4L1071.4 140.4" fill="none" stroke="#000" stroke-width="4.1"/>
<path d="M918.9 81H1076.9A3.2 3.2 0 0 1 1080.1 84.2V141.4A3.2 3.2 0 0 1 1076.9 144.6H918.9A3.2 3.2 0 0 1 915.7 141.4V84.2A3.2 3.2 0 0 1 918.9 81ZM924.7 89.4H1071.1V136.2H924.7Z" fill="#000" fill-rule="evenodd"/>
<rect x="924.5" y="189.5" width="154.2" height="54.9" fill="#d3d3d3"/>
<path d="M925.5 189.5L924.5 190.4M944.3 189.5L924.5 207.8M963.1 189.5L924.5 225.3M981.8 189.5L924.5 242.7M1000.6 189.5L941.4 244.4M1019.4 189.5L960.2 244.4M1038.2 189.5L979 244.4M1057 189.5L997.8 244.4M1075.7 189.5L1016.6 244.4M1078.7 204.2L1035.3 244.4M1078.7 221.6L1054.1 244.4M1078.7 239L1072.9 244.4" fill="none" stroke="#000" stroke-width="4.1"/>
<path d="M923.2 185.3H1080A3.2 3.2 0 0 1 1083.2 188.5V245.4A3.2 3.2 0 0 1 1080 248.6H923.2A3.2 3.2 0 0 1 920 245.4V188.5A3.2 3.2 0 0 1 923.2 185.3ZM929 193.7H1074.2V240.2H929Z" fill="#000" fill-rule="evenodd"/>
<rect x="1754.3" y="85.2" width="155.2" height="55.2" fill="#ffffff"/>
<path d="M1754.3 103.7L1909.5 103.7M1754.3 122L1909.5 122M1754.3 140.2L1909.5 140.2M1774.9 85.2L1774.9 140.4M1794.4 85.2L1794.4 140.4M1814 85.2L1814 140.4M1833.6 85.2L1833.6 140.4M1853.1 85.2L1853.1 140.4M1872.7 85.2L1872.7 140.4M1892.3 85.2L1892.3 140.4" fill="none" stroke="#000" stroke-width="4.1"/>
<path d="M1753 81H1910.8A3.2 3.2 0 0 1 1914 84.2V141.4A3.2 3.2 0 0 1 1910.8 144.6H1753A3.2 3.2 0 0 1 1749.8 141.4V84.2A3.2 3.2 0 0 1 1753 81ZM1758.8 89.4H1905V136.2H1758.8Z" fill="#000" fill-rule="evenodd"/>
<rect x="1762.3" y="189.5" width="155.4" height="54.9" fill="#ffffff"/>
<path d="M1762.3 242.2L1764.7 244.4M1762.3 224.6L1783.5 244.4M1762.3 207.1L1802.3 244.4M1762.3 189.5L1821 244.4M1781.1 189.5L1839.8 244.4M1799.9 189.5L1858.6 244.4M1818.6 189.5L1877.4 244.4M1837.4 189.5L1896.2 244.4M1856.2 189.5L1914.9 244.4M1875 189.5L1917.7 229.4M1893.8 189.5L1917.7 211.9M1912.5 189.5L1917.7 194.3M1762.8 189.5L1762.3 190M1781.6 189.5L1762.3 207.5M1800.4 189.5L1762.3 225.1M1819.1 189.5L1762.3 242.6M1837.9 189.5L1779.2 244.4M1856.7 189.5L1798 244.4M1875.5 189.5L1816.7 244.4M1894.3 189.5L1835.5 244.4M1913 189.5L1854.3 244.4M1917.7 202.7L1873.1 244.4M1917.7 220.2L1891.9 244.4M1917.7 237.8L1910.6 244.4" fill="none" stroke="#000" stroke-width="4.1"/>
<path d="M1761 185.3H1919A3.2 3.2 0 0 1 1922.2 188.5V245.4A3.2 3.2 0 0 1 1919 248.6H1761A3.2 3.2 0 0 1 1757.8 245.4V188.5A3.2 3.2 0 0 1 1761 185.3ZM1766.8 193.7H1913.2V240.2H1766.8Z" fill="#000" fill-rule="evenodd"/>
<text transform="translate(660.3 135.2) scale(0.965 1.03)" font-size="67.6"><tspan x="0 51.8 71.1 108.9">Clay</tspan><tspan x="146.1" dy="24.7" font-size="40.9">6</tspan></text>
<text transform="translate(1096.8 135.2) scale(0.965 1.03)" font-size="67.6"><tspan x="0 44.4 87.8 130.1 150.3">ZnTiO</tspan><tspan x="204.9" dy="24.7" font-size="40.9">3</tspan><tspan x="227.6 248.2 290.6 310.1" dy="-24.7">/TiO</tspan><tspan x="364.7" dy="24.7" font-size="40.9">2</tspan><tspan x="389.1 412.2 464 483.2 521.1" dy="-24.7">-Clay</tspan><tspan x="558.3" dy="24.7" font-size="40.9">6</tspan></text>
<text transform="translate(1932.3 135.2) scale(0.965 1.03)" font-size="67.6"><tspan x="0 42.5 61.9">TiO</tspan><tspan x="115.4" dy="24.7" font-size="40.9">2</tspan><tspan x="139.9 163 214.8 234 271.8" dy="-24.7">-Clay</tspan><tspan x="309.1" dy="24.7" font-size="40.9">6</tspan></text>
<text transform="translate(660.3 239.3) scale(0.965 1.03)" font-size="67.6"><tspan x="0 51.8 71.1 108.9">Clay</tspan><tspan x="145.9 169.2" dy="24.7" font-size="40.9">12</tspan></text>
<text transform="translate(1099 239.3) scale(0.965 1.03)" font-size="67.6"><tspan x="0 44.4 87.8 130.1 150.3">ZnTiO</tspan><tspan x="205.2" dy="24.7" font-size="40.9">3</tspan><tspan x="228.4 249 291.4 311" dy="-24.7">/TiO</tspan><tspan x="365.5" dy="24.7" font-size="40.9">2</tspan><tspan x="389.9 413 464.9 484.1 521.9" dy="-24.7">-Clay</tspan><tspan x="560 583.3" dy="24.7" font-size="40.9">12</tspan></text>
<text transform="translate(1940.1 239.3) scale(0.965 1.03)" font-size="67.6"><tspan x="0 42.5 61.9">TiO</tspan><tspan x="115.6" dy="24.7" font-size="40.9">2</tspan><tspan x="139.9 163 214.8 234 271.8" dy="-24.7">-Clay</tspan><tspan x="309.7 333.4" dy="24.7" font-size="40.9">12</tspan></text>
</svg></body></html>
